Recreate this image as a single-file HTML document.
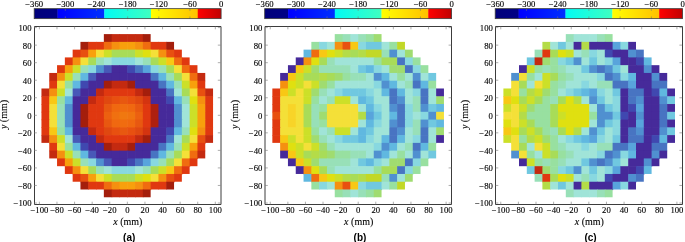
<!DOCTYPE html>
<html><head><meta charset="utf-8"><title>Figure</title>
<style>
html,body{margin:0;padding:0;background:#fff;}
body{width:685px;height:242px;overflow:hidden;}
svg{display:block;}
.t{font-family:"Liberation Serif","DejaVu Serif",serif;font-size:8.7px;fill:#000;stroke:#000;stroke-width:0.12px;}
.l{font-family:"Liberation Serif","DejaVu Serif",serif;font-size:10px;fill:#000;stroke:#000;stroke-width:0.1px;}
.p{font-family:"Liberation Sans","DejaVu Sans",sans-serif;font-size:10px;font-weight:bold;fill:#000;}
</style></head><body>
<svg width="685" height="242" viewBox="0 0 685 242">
<defs>
<linearGradient id="g1" x1="0" x2="1" y1="0" y2="0"><stop offset="0" stop-color="#00007a"/><stop offset="1" stop-color="#000086"/></linearGradient>
<linearGradient id="g2" x1="0" x2="1" y1="0" y2="0"><stop offset="0" stop-color="#0000ff"/><stop offset="1" stop-color="#0030ff"/></linearGradient>
<linearGradient id="g3" x1="0" x2="1" y1="0" y2="0"><stop offset="0" stop-color="#00fbf4"/><stop offset="1" stop-color="#40ffc0"/></linearGradient>
<linearGradient id="g4" x1="0" x2="1" y1="0" y2="0"><stop offset="0" stop-color="#ffff00"/><stop offset="1" stop-color="#ffc000"/></linearGradient>
<linearGradient id="g5" x1="0" x2="1" y1="0" y2="0"><stop offset="0" stop-color="#ff0000"/><stop offset="1" stop-color="#c00000"/></linearGradient>
</defs>
<g>
<rect x="103.85" y="34.1" width="8.4" height="8.37" fill="#a41e0c"/><rect x="111.65" y="34.1" width="8.4" height="8.37" fill="#c42a10"/><rect x="119.45" y="34.1" width="8.4" height="8.37" fill="#c42a10"/><rect x="127.25" y="34.1" width="8.4" height="8.37" fill="#c42a10"/><rect x="135.05" y="34.1" width="8.4" height="8.37" fill="#c42a10"/><rect x="142.85" y="34.1" width="7.8" height="8.37" fill="#a41e0c"/>
<rect x="80.45" y="41.87" width="8.4" height="8.37" fill="#a41e0c"/><rect x="88.25" y="41.87" width="8.4" height="8.37" fill="#e03810"/><rect x="96.05" y="41.87" width="8.4" height="8.37" fill="#e03810"/><rect x="103.85" y="41.87" width="8.4" height="8.37" fill="#f06c10"/><rect x="111.65" y="41.87" width="8.4" height="8.37" fill="#f59010"/><rect x="119.45" y="41.87" width="8.4" height="8.37" fill="#f8a00c"/><rect x="127.25" y="41.87" width="8.4" height="8.37" fill="#f8a00c"/><rect x="135.05" y="41.87" width="8.4" height="8.37" fill="#f59010"/><rect x="142.85" y="41.87" width="8.4" height="8.37" fill="#f06c10"/><rect x="150.65" y="41.87" width="8.4" height="8.37" fill="#e03810"/><rect x="158.45" y="41.87" width="8.4" height="8.37" fill="#e03810"/><rect x="166.25" y="41.87" width="7.8" height="8.37" fill="#a41e0c"/>
<rect x="72.65" y="49.64" width="8.4" height="8.37" fill="#e03810"/><rect x="80.45" y="49.64" width="8.4" height="8.37" fill="#e85010"/><rect x="88.25" y="49.64" width="8.4" height="8.37" fill="#f8a00c"/><rect x="96.05" y="49.64" width="8.4" height="8.37" fill="#f4e038"/><rect x="103.85" y="49.64" width="8.4" height="8.37" fill="#cce028"/><rect x="111.65" y="49.64" width="8.4" height="8.37" fill="#a8dc58"/><rect x="119.45" y="49.64" width="8.4" height="8.37" fill="#a8dc58"/><rect x="127.25" y="49.64" width="8.4" height="8.37" fill="#a8dc58"/><rect x="135.05" y="49.64" width="8.4" height="8.37" fill="#cce028"/><rect x="142.85" y="49.64" width="8.4" height="8.37" fill="#e0e010"/><rect x="150.65" y="49.64" width="8.4" height="8.37" fill="#f4e038"/><rect x="158.45" y="49.64" width="8.4" height="8.37" fill="#f59010"/><rect x="166.25" y="49.64" width="8.4" height="8.37" fill="#e85010"/><rect x="174.05" y="49.64" width="7.8" height="8.37" fill="#e03810"/>
<rect x="64.85" y="57.41" width="8.4" height="8.37" fill="#e03810"/><rect x="72.65" y="57.41" width="8.4" height="8.37" fill="#f59010"/><rect x="80.45" y="57.41" width="8.4" height="8.37" fill="#f4e038"/><rect x="88.25" y="57.41" width="8.4" height="8.37" fill="#a8dc58"/><rect x="96.05" y="57.41" width="8.4" height="8.37" fill="#98e0b8"/><rect x="103.85" y="57.41" width="8.4" height="8.37" fill="#a0e4d8"/><rect x="111.65" y="57.41" width="8.4" height="8.37" fill="#88d8e0"/><rect x="119.45" y="57.41" width="8.4" height="8.37" fill="#88d8e0"/><rect x="127.25" y="57.41" width="8.4" height="8.37" fill="#88d8e0"/><rect x="135.05" y="57.41" width="8.4" height="8.37" fill="#a0e4d8"/><rect x="142.85" y="57.41" width="8.4" height="8.37" fill="#98e0b8"/><rect x="150.65" y="57.41" width="8.4" height="8.37" fill="#a8dc58"/><rect x="158.45" y="57.41" width="8.4" height="8.37" fill="#cce028"/><rect x="166.25" y="57.41" width="8.4" height="8.37" fill="#f8c814"/><rect x="174.05" y="57.41" width="8.4" height="8.37" fill="#f06c10"/><rect x="181.85" y="57.41" width="7.8" height="8.37" fill="#e03810"/>
<rect x="57.05" y="65.18" width="8.4" height="8.37" fill="#e03810"/><rect x="64.85" y="65.18" width="8.4" height="8.37" fill="#f8a00c"/><rect x="72.65" y="65.18" width="8.4" height="8.37" fill="#cce028"/><rect x="80.45" y="65.18" width="8.4" height="8.37" fill="#98e0b8"/><rect x="88.25" y="65.18" width="8.4" height="8.37" fill="#88d8e0"/><rect x="96.05" y="65.18" width="8.4" height="8.37" fill="#5090d0"/><rect x="103.85" y="65.18" width="8.4" height="8.37" fill="#4858b8"/><rect x="111.65" y="65.18" width="8.4" height="8.37" fill="#462a9a"/><rect x="119.45" y="65.18" width="8.4" height="8.37" fill="#462a9a"/><rect x="127.25" y="65.18" width="8.4" height="8.37" fill="#4048b0"/><rect x="135.05" y="65.18" width="8.4" height="8.37" fill="#4874c2"/><rect x="142.85" y="65.18" width="8.4" height="8.37" fill="#58a4dc"/><rect x="150.65" y="65.18" width="8.4" height="8.37" fill="#88d8e0"/><rect x="158.45" y="65.18" width="8.4" height="8.37" fill="#98e0b8"/><rect x="166.25" y="65.18" width="8.4" height="8.37" fill="#a8dc58"/><rect x="174.05" y="65.18" width="8.4" height="8.37" fill="#f4e038"/><rect x="181.85" y="65.18" width="8.4" height="8.37" fill="#f06c10"/><rect x="189.65" y="65.18" width="7.8" height="8.37" fill="#e03810"/>
<rect x="49.25" y="72.95" width="8.4" height="8.37" fill="#c42a10"/><rect x="57.05" y="72.95" width="8.4" height="8.37" fill="#f59010"/><rect x="64.85" y="72.95" width="8.4" height="8.37" fill="#cce028"/><rect x="72.65" y="72.95" width="8.4" height="8.37" fill="#98e0b8"/><rect x="80.45" y="72.95" width="8.4" height="8.37" fill="#60b8e0"/><rect x="88.25" y="72.95" width="8.4" height="8.37" fill="#4858b8"/><rect x="96.05" y="72.95" width="8.4" height="8.37" fill="#462a9a"/><rect x="103.85" y="72.95" width="8.4" height="8.37" fill="#462a9a"/><rect x="111.65" y="72.95" width="8.4" height="8.37" fill="#462a9a"/><rect x="119.45" y="72.95" width="8.4" height="8.37" fill="#462a9a"/><rect x="127.25" y="72.95" width="8.4" height="8.37" fill="#462a9a"/><rect x="135.05" y="72.95" width="8.4" height="8.37" fill="#462a9a"/><rect x="142.85" y="72.95" width="8.4" height="8.37" fill="#462a9a"/><rect x="150.65" y="72.95" width="8.4" height="8.37" fill="#4874c2"/><rect x="158.45" y="72.95" width="8.4" height="8.37" fill="#60b8e0"/><rect x="166.25" y="72.95" width="8.4" height="8.37" fill="#98e0b8"/><rect x="174.05" y="72.95" width="8.4" height="8.37" fill="#a8dc58"/><rect x="181.85" y="72.95" width="8.4" height="8.37" fill="#f4e038"/><rect x="189.65" y="72.95" width="8.4" height="8.37" fill="#f06c10"/><rect x="197.45" y="72.95" width="7.8" height="8.37" fill="#c42a10"/>
<rect x="49.25" y="80.72" width="8.4" height="8.37" fill="#e03810"/><rect x="57.05" y="80.72" width="8.4" height="8.37" fill="#f4e038"/><rect x="64.85" y="80.72" width="8.4" height="8.37" fill="#98e0a0"/><rect x="72.65" y="80.72" width="8.4" height="8.37" fill="#60b8e0"/><rect x="80.45" y="80.72" width="8.4" height="8.37" fill="#4048b0"/><rect x="88.25" y="80.72" width="8.4" height="8.37" fill="#462a9a"/><rect x="96.05" y="80.72" width="8.4" height="8.37" fill="#462a9a"/><rect x="103.85" y="80.72" width="8.4" height="8.37" fill="#a41e0c"/><rect x="111.65" y="80.72" width="8.4" height="8.37" fill="#c42a10"/><rect x="119.45" y="80.72" width="8.4" height="8.37" fill="#c42a10"/><rect x="127.25" y="80.72" width="8.4" height="8.37" fill="#a41e0c"/><rect x="135.05" y="80.72" width="8.4" height="8.37" fill="#462a9a"/><rect x="142.85" y="80.72" width="8.4" height="8.37" fill="#462a9a"/><rect x="150.65" y="80.72" width="8.4" height="8.37" fill="#462a9a"/><rect x="158.45" y="80.72" width="8.4" height="8.37" fill="#4874c2"/><rect x="166.25" y="80.72" width="8.4" height="8.37" fill="#60b8e0"/><rect x="174.05" y="80.72" width="8.4" height="8.37" fill="#98e0b8"/><rect x="181.85" y="80.72" width="8.4" height="8.37" fill="#cce028"/><rect x="189.65" y="80.72" width="8.4" height="8.37" fill="#f8a00c"/><rect x="197.45" y="80.72" width="7.8" height="8.37" fill="#e03810"/>
<rect x="41.45" y="88.49" width="8.4" height="8.37" fill="#c42a10"/><rect x="49.25" y="88.49" width="8.4" height="8.37" fill="#f59010"/><rect x="57.05" y="88.49" width="8.4" height="8.37" fill="#cce028"/><rect x="64.85" y="88.49" width="8.4" height="8.37" fill="#a0e4d8"/><rect x="72.65" y="88.49" width="8.4" height="8.37" fill="#4858b8"/><rect x="80.45" y="88.49" width="8.4" height="8.37" fill="#462a9a"/><rect x="88.25" y="88.49" width="8.4" height="8.37" fill="#462a9a"/><rect x="96.05" y="88.49" width="8.4" height="8.37" fill="#c42a10"/><rect x="103.85" y="88.49" width="8.4" height="8.37" fill="#e03810"/><rect x="111.65" y="88.49" width="8.4" height="8.37" fill="#e03810"/><rect x="119.45" y="88.49" width="8.4" height="8.37" fill="#e03810"/><rect x="127.25" y="88.49" width="8.4" height="8.37" fill="#e03810"/><rect x="135.05" y="88.49" width="8.4" height="8.37" fill="#c42a10"/><rect x="142.85" y="88.49" width="8.4" height="8.37" fill="#a41e0c"/><rect x="150.65" y="88.49" width="8.4" height="8.37" fill="#462a9a"/><rect x="158.45" y="88.49" width="8.4" height="8.37" fill="#462a9a"/><rect x="166.25" y="88.49" width="8.4" height="8.37" fill="#4874c2"/><rect x="174.05" y="88.49" width="8.4" height="8.37" fill="#a0e4d8"/><rect x="181.85" y="88.49" width="8.4" height="8.37" fill="#a8dc58"/><rect x="189.65" y="88.49" width="8.4" height="8.37" fill="#f4e038"/><rect x="197.45" y="88.49" width="8.4" height="8.37" fill="#e85010"/><rect x="205.25" y="88.49" width="7.8" height="8.37" fill="#c42a10"/>
<rect x="41.45" y="96.26" width="8.4" height="8.37" fill="#e03810"/><rect x="49.25" y="96.26" width="8.4" height="8.37" fill="#f8c814"/><rect x="57.05" y="96.26" width="8.4" height="8.37" fill="#98e0a0"/><rect x="64.85" y="96.26" width="8.4" height="8.37" fill="#60b8e0"/><rect x="72.65" y="96.26" width="8.4" height="8.37" fill="#462a9a"/><rect x="80.45" y="96.26" width="8.4" height="8.37" fill="#462a9a"/><rect x="88.25" y="96.26" width="8.4" height="8.37" fill="#c42a10"/><rect x="96.05" y="96.26" width="8.4" height="8.37" fill="#e03810"/><rect x="103.85" y="96.26" width="8.4" height="8.37" fill="#e04810"/><rect x="111.65" y="96.26" width="8.4" height="8.37" fill="#e85010"/><rect x="119.45" y="96.26" width="8.4" height="8.37" fill="#e85810"/><rect x="127.25" y="96.26" width="8.4" height="8.37" fill="#e85010"/><rect x="135.05" y="96.26" width="8.4" height="8.37" fill="#e04810"/><rect x="142.85" y="96.26" width="8.4" height="8.37" fill="#d43410"/><rect x="150.65" y="96.26" width="8.4" height="8.37" fill="#462a9a"/><rect x="158.45" y="96.26" width="8.4" height="8.37" fill="#462a9a"/><rect x="166.25" y="96.26" width="8.4" height="8.37" fill="#4048b0"/><rect x="174.05" y="96.26" width="8.4" height="8.37" fill="#60b8e0"/><rect x="181.85" y="96.26" width="8.4" height="8.37" fill="#98e0b8"/><rect x="189.65" y="96.26" width="8.4" height="8.37" fill="#e0e010"/><rect x="197.45" y="96.26" width="8.4" height="8.37" fill="#f59010"/><rect x="205.25" y="96.26" width="7.8" height="8.37" fill="#e03810"/>
<rect x="41.45" y="104.03" width="8.4" height="8.37" fill="#e03810"/><rect x="49.25" y="104.03" width="8.4" height="8.37" fill="#f4e038"/><rect x="57.05" y="104.03" width="8.4" height="8.37" fill="#98e0b8"/><rect x="64.85" y="104.03" width="8.4" height="8.37" fill="#5090d0"/><rect x="72.65" y="104.03" width="8.4" height="8.37" fill="#462a9a"/><rect x="80.45" y="104.03" width="8.4" height="8.37" fill="#a41e0c"/><rect x="88.25" y="104.03" width="8.4" height="8.37" fill="#e03810"/><rect x="96.05" y="104.03" width="8.4" height="8.37" fill="#e03810"/><rect x="103.85" y="104.03" width="8.4" height="8.37" fill="#e85810"/><rect x="111.65" y="104.03" width="8.4" height="8.37" fill="#f06810"/><rect x="119.45" y="104.03" width="8.4" height="8.37" fill="#f06c10"/><rect x="127.25" y="104.03" width="8.4" height="8.37" fill="#f06810"/><rect x="135.05" y="104.03" width="8.4" height="8.37" fill="#e85810"/><rect x="142.85" y="104.03" width="8.4" height="8.37" fill="#e03810"/><rect x="150.65" y="104.03" width="8.4" height="8.37" fill="#ae2010"/><rect x="158.45" y="104.03" width="8.4" height="8.37" fill="#462a9a"/><rect x="166.25" y="104.03" width="8.4" height="8.37" fill="#462a9a"/><rect x="174.05" y="104.03" width="8.4" height="8.37" fill="#5090d0"/><rect x="181.85" y="104.03" width="8.4" height="8.37" fill="#a0e4d8"/><rect x="189.65" y="104.03" width="8.4" height="8.37" fill="#cce028"/><rect x="197.45" y="104.03" width="8.4" height="8.37" fill="#f8a00c"/><rect x="205.25" y="104.03" width="7.8" height="8.37" fill="#e03810"/>
<rect x="41.45" y="111.8" width="8.4" height="8.37" fill="#e03810"/><rect x="49.25" y="111.8" width="8.4" height="8.37" fill="#f4e038"/><rect x="57.05" y="111.8" width="8.4" height="8.37" fill="#98e0b8"/><rect x="64.85" y="111.8" width="8.4" height="8.37" fill="#5090d0"/><rect x="72.65" y="111.8" width="8.4" height="8.37" fill="#462a9a"/><rect x="80.45" y="111.8" width="8.4" height="8.37" fill="#a41e0c"/><rect x="88.25" y="111.8" width="8.4" height="8.37" fill="#e03810"/><rect x="96.05" y="111.8" width="8.4" height="8.37" fill="#e03810"/><rect x="103.85" y="111.8" width="8.4" height="8.37" fill="#ec6010"/><rect x="111.65" y="111.8" width="8.4" height="8.37" fill="#f07010"/><rect x="119.45" y="111.8" width="8.4" height="8.37" fill="#f07810"/><rect x="127.25" y="111.8" width="8.4" height="8.37" fill="#f07410"/><rect x="135.05" y="111.8" width="8.4" height="8.37" fill="#ec6010"/><rect x="142.85" y="111.8" width="8.4" height="8.37" fill="#e03810"/><rect x="150.65" y="111.8" width="8.4" height="8.37" fill="#ae2010"/><rect x="158.45" y="111.8" width="8.4" height="8.37" fill="#462a9a"/><rect x="166.25" y="111.8" width="8.4" height="8.37" fill="#462a9a"/><rect x="174.05" y="111.8" width="8.4" height="8.37" fill="#5090d0"/><rect x="181.85" y="111.8" width="8.4" height="8.37" fill="#a0e4d8"/><rect x="189.65" y="111.8" width="8.4" height="8.37" fill="#cce028"/><rect x="197.45" y="111.8" width="8.4" height="8.37" fill="#f8a00c"/><rect x="205.25" y="111.8" width="7.8" height="8.37" fill="#e03810"/>
<rect x="41.45" y="119.57" width="8.4" height="8.37" fill="#e03810"/><rect x="49.25" y="119.57" width="8.4" height="8.37" fill="#f4e038"/><rect x="57.05" y="119.57" width="8.4" height="8.37" fill="#98e0b8"/><rect x="64.85" y="119.57" width="8.4" height="8.37" fill="#5090d0"/><rect x="72.65" y="119.57" width="8.4" height="8.37" fill="#462a9a"/><rect x="80.45" y="119.57" width="8.4" height="8.37" fill="#a41e0c"/><rect x="88.25" y="119.57" width="8.4" height="8.37" fill="#e03810"/><rect x="96.05" y="119.57" width="8.4" height="8.37" fill="#e03810"/><rect x="103.85" y="119.57" width="8.4" height="8.37" fill="#e85810"/><rect x="111.65" y="119.57" width="8.4" height="8.37" fill="#f06810"/><rect x="119.45" y="119.57" width="8.4" height="8.37" fill="#f06c10"/><rect x="127.25" y="119.57" width="8.4" height="8.37" fill="#f06810"/><rect x="135.05" y="119.57" width="8.4" height="8.37" fill="#e85810"/><rect x="142.85" y="119.57" width="8.4" height="8.37" fill="#e03810"/><rect x="150.65" y="119.57" width="8.4" height="8.37" fill="#ae2010"/><rect x="158.45" y="119.57" width="8.4" height="8.37" fill="#462a9a"/><rect x="166.25" y="119.57" width="8.4" height="8.37" fill="#462a9a"/><rect x="174.05" y="119.57" width="8.4" height="8.37" fill="#5090d0"/><rect x="181.85" y="119.57" width="8.4" height="8.37" fill="#a0e4d8"/><rect x="189.65" y="119.57" width="8.4" height="8.37" fill="#cce028"/><rect x="197.45" y="119.57" width="8.4" height="8.37" fill="#f8a00c"/><rect x="205.25" y="119.57" width="7.8" height="8.37" fill="#e03810"/>
<rect x="41.45" y="127.34" width="8.4" height="8.37" fill="#e03810"/><rect x="49.25" y="127.34" width="8.4" height="8.37" fill="#f8c814"/><rect x="57.05" y="127.34" width="8.4" height="8.37" fill="#98e0a0"/><rect x="64.85" y="127.34" width="8.4" height="8.37" fill="#60b8e0"/><rect x="72.65" y="127.34" width="8.4" height="8.37" fill="#462a9a"/><rect x="80.45" y="127.34" width="8.4" height="8.37" fill="#462a9a"/><rect x="88.25" y="127.34" width="8.4" height="8.37" fill="#c42a10"/><rect x="96.05" y="127.34" width="8.4" height="8.37" fill="#e03810"/><rect x="103.85" y="127.34" width="8.4" height="8.37" fill="#e04810"/><rect x="111.65" y="127.34" width="8.4" height="8.37" fill="#e85010"/><rect x="119.45" y="127.34" width="8.4" height="8.37" fill="#e85810"/><rect x="127.25" y="127.34" width="8.4" height="8.37" fill="#e85010"/><rect x="135.05" y="127.34" width="8.4" height="8.37" fill="#e04810"/><rect x="142.85" y="127.34" width="8.4" height="8.37" fill="#d43410"/><rect x="150.65" y="127.34" width="8.4" height="8.37" fill="#462a9a"/><rect x="158.45" y="127.34" width="8.4" height="8.37" fill="#462a9a"/><rect x="166.25" y="127.34" width="8.4" height="8.37" fill="#4048b0"/><rect x="174.05" y="127.34" width="8.4" height="8.37" fill="#60b8e0"/><rect x="181.85" y="127.34" width="8.4" height="8.37" fill="#98e0b8"/><rect x="189.65" y="127.34" width="8.4" height="8.37" fill="#e0e010"/><rect x="197.45" y="127.34" width="8.4" height="8.37" fill="#f59010"/><rect x="205.25" y="127.34" width="7.8" height="8.37" fill="#e03810"/>
<rect x="41.45" y="135.11" width="8.4" height="7.77" fill="#c42a10"/><rect x="49.25" y="135.11" width="8.4" height="8.37" fill="#f59010"/><rect x="57.05" y="135.11" width="8.4" height="8.37" fill="#cce028"/><rect x="64.85" y="135.11" width="8.4" height="8.37" fill="#a0e4d8"/><rect x="72.65" y="135.11" width="8.4" height="8.37" fill="#4858b8"/><rect x="80.45" y="135.11" width="8.4" height="8.37" fill="#462a9a"/><rect x="88.25" y="135.11" width="8.4" height="8.37" fill="#462a9a"/><rect x="96.05" y="135.11" width="8.4" height="8.37" fill="#c42a10"/><rect x="103.85" y="135.11" width="8.4" height="8.37" fill="#e03810"/><rect x="111.65" y="135.11" width="8.4" height="8.37" fill="#e03810"/><rect x="119.45" y="135.11" width="8.4" height="8.37" fill="#e03810"/><rect x="127.25" y="135.11" width="8.4" height="8.37" fill="#e03810"/><rect x="135.05" y="135.11" width="8.4" height="8.37" fill="#c42a10"/><rect x="142.85" y="135.11" width="8.4" height="8.37" fill="#a41e0c"/><rect x="150.65" y="135.11" width="8.4" height="8.37" fill="#462a9a"/><rect x="158.45" y="135.11" width="8.4" height="8.37" fill="#462a9a"/><rect x="166.25" y="135.11" width="8.4" height="8.37" fill="#4874c2"/><rect x="174.05" y="135.11" width="8.4" height="8.37" fill="#a0e4d8"/><rect x="181.85" y="135.11" width="8.4" height="8.37" fill="#a8dc58"/><rect x="189.65" y="135.11" width="8.4" height="8.37" fill="#f4e038"/><rect x="197.45" y="135.11" width="8.4" height="8.37" fill="#e85010"/><rect x="205.25" y="135.11" width="7.8" height="7.77" fill="#c42a10"/>
<rect x="49.25" y="142.88" width="8.4" height="8.37" fill="#e03810"/><rect x="57.05" y="142.88" width="8.4" height="8.37" fill="#f4e038"/><rect x="64.85" y="142.88" width="8.4" height="8.37" fill="#98e0a0"/><rect x="72.65" y="142.88" width="8.4" height="8.37" fill="#60b8e0"/><rect x="80.45" y="142.88" width="8.4" height="8.37" fill="#4048b0"/><rect x="88.25" y="142.88" width="8.4" height="8.37" fill="#462a9a"/><rect x="96.05" y="142.88" width="8.4" height="8.37" fill="#462a9a"/><rect x="103.85" y="142.88" width="8.4" height="8.37" fill="#a41e0c"/><rect x="111.65" y="142.88" width="8.4" height="8.37" fill="#c42a10"/><rect x="119.45" y="142.88" width="8.4" height="8.37" fill="#c42a10"/><rect x="127.25" y="142.88" width="8.4" height="8.37" fill="#a41e0c"/><rect x="135.05" y="142.88" width="8.4" height="8.37" fill="#462a9a"/><rect x="142.85" y="142.88" width="8.4" height="8.37" fill="#462a9a"/><rect x="150.65" y="142.88" width="8.4" height="8.37" fill="#462a9a"/><rect x="158.45" y="142.88" width="8.4" height="8.37" fill="#4874c2"/><rect x="166.25" y="142.88" width="8.4" height="8.37" fill="#60b8e0"/><rect x="174.05" y="142.88" width="8.4" height="8.37" fill="#98e0b8"/><rect x="181.85" y="142.88" width="8.4" height="8.37" fill="#cce028"/><rect x="189.65" y="142.88" width="8.4" height="8.37" fill="#f8a00c"/><rect x="197.45" y="142.88" width="7.8" height="8.37" fill="#e03810"/>
<rect x="49.25" y="150.65" width="8.4" height="7.77" fill="#c42a10"/><rect x="57.05" y="150.65" width="8.4" height="8.37" fill="#f59010"/><rect x="64.85" y="150.65" width="8.4" height="8.37" fill="#cce028"/><rect x="72.65" y="150.65" width="8.4" height="8.37" fill="#98e0b8"/><rect x="80.45" y="150.65" width="8.4" height="8.37" fill="#60b8e0"/><rect x="88.25" y="150.65" width="8.4" height="8.37" fill="#4858b8"/><rect x="96.05" y="150.65" width="8.4" height="8.37" fill="#462a9a"/><rect x="103.85" y="150.65" width="8.4" height="8.37" fill="#462a9a"/><rect x="111.65" y="150.65" width="8.4" height="8.37" fill="#462a9a"/><rect x="119.45" y="150.65" width="8.4" height="8.37" fill="#462a9a"/><rect x="127.25" y="150.65" width="8.4" height="8.37" fill="#462a9a"/><rect x="135.05" y="150.65" width="8.4" height="8.37" fill="#462a9a"/><rect x="142.85" y="150.65" width="8.4" height="8.37" fill="#462a9a"/><rect x="150.65" y="150.65" width="8.4" height="8.37" fill="#4874c2"/><rect x="158.45" y="150.65" width="8.4" height="8.37" fill="#60b8e0"/><rect x="166.25" y="150.65" width="8.4" height="8.37" fill="#98e0b8"/><rect x="174.05" y="150.65" width="8.4" height="8.37" fill="#a8dc58"/><rect x="181.85" y="150.65" width="8.4" height="8.37" fill="#f4e038"/><rect x="189.65" y="150.65" width="8.4" height="8.37" fill="#f06c10"/><rect x="197.45" y="150.65" width="7.8" height="7.77" fill="#c42a10"/>
<rect x="57.05" y="158.42" width="8.4" height="7.77" fill="#e03810"/><rect x="64.85" y="158.42" width="8.4" height="8.37" fill="#f8a00c"/><rect x="72.65" y="158.42" width="8.4" height="8.37" fill="#cce028"/><rect x="80.45" y="158.42" width="8.4" height="8.37" fill="#98e0b8"/><rect x="88.25" y="158.42" width="8.4" height="8.37" fill="#88d8e0"/><rect x="96.05" y="158.42" width="8.4" height="8.37" fill="#5090d0"/><rect x="103.85" y="158.42" width="8.4" height="8.37" fill="#4858b8"/><rect x="111.65" y="158.42" width="8.4" height="8.37" fill="#462a9a"/><rect x="119.45" y="158.42" width="8.4" height="8.37" fill="#462a9a"/><rect x="127.25" y="158.42" width="8.4" height="8.37" fill="#4048b0"/><rect x="135.05" y="158.42" width="8.4" height="8.37" fill="#4874c2"/><rect x="142.85" y="158.42" width="8.4" height="8.37" fill="#58a4dc"/><rect x="150.65" y="158.42" width="8.4" height="8.37" fill="#88d8e0"/><rect x="158.45" y="158.42" width="8.4" height="8.37" fill="#98e0b8"/><rect x="166.25" y="158.42" width="8.4" height="8.37" fill="#a8dc58"/><rect x="174.05" y="158.42" width="8.4" height="8.37" fill="#f4e038"/><rect x="181.85" y="158.42" width="8.4" height="8.37" fill="#f06c10"/><rect x="189.65" y="158.42" width="7.8" height="7.77" fill="#e03810"/>
<rect x="64.85" y="166.19" width="8.4" height="7.77" fill="#e03810"/><rect x="72.65" y="166.19" width="8.4" height="8.37" fill="#f59010"/><rect x="80.45" y="166.19" width="8.4" height="8.37" fill="#f4e038"/><rect x="88.25" y="166.19" width="8.4" height="8.37" fill="#a8dc58"/><rect x="96.05" y="166.19" width="8.4" height="8.37" fill="#98e0b8"/><rect x="103.85" y="166.19" width="8.4" height="8.37" fill="#a0e4d8"/><rect x="111.65" y="166.19" width="8.4" height="8.37" fill="#88d8e0"/><rect x="119.45" y="166.19" width="8.4" height="8.37" fill="#88d8e0"/><rect x="127.25" y="166.19" width="8.4" height="8.37" fill="#88d8e0"/><rect x="135.05" y="166.19" width="8.4" height="8.37" fill="#a0e4d8"/><rect x="142.85" y="166.19" width="8.4" height="8.37" fill="#98e0b8"/><rect x="150.65" y="166.19" width="8.4" height="8.37" fill="#a8dc58"/><rect x="158.45" y="166.19" width="8.4" height="8.37" fill="#cce028"/><rect x="166.25" y="166.19" width="8.4" height="8.37" fill="#f8c814"/><rect x="174.05" y="166.19" width="8.4" height="8.37" fill="#f06c10"/><rect x="181.85" y="166.19" width="7.8" height="7.77" fill="#e03810"/>
<rect x="72.65" y="173.96" width="8.4" height="7.77" fill="#e03810"/><rect x="80.45" y="173.96" width="8.4" height="8.37" fill="#e85010"/><rect x="88.25" y="173.96" width="8.4" height="8.37" fill="#f8a00c"/><rect x="96.05" y="173.96" width="8.4" height="8.37" fill="#f4e038"/><rect x="103.85" y="173.96" width="8.4" height="8.37" fill="#cce028"/><rect x="111.65" y="173.96" width="8.4" height="8.37" fill="#a8dc58"/><rect x="119.45" y="173.96" width="8.4" height="8.37" fill="#a8dc58"/><rect x="127.25" y="173.96" width="8.4" height="8.37" fill="#a8dc58"/><rect x="135.05" y="173.96" width="8.4" height="8.37" fill="#cce028"/><rect x="142.85" y="173.96" width="8.4" height="8.37" fill="#e0e010"/><rect x="150.65" y="173.96" width="8.4" height="8.37" fill="#f4e038"/><rect x="158.45" y="173.96" width="8.4" height="8.37" fill="#f59010"/><rect x="166.25" y="173.96" width="8.4" height="8.37" fill="#e85010"/><rect x="174.05" y="173.96" width="7.8" height="7.77" fill="#e03810"/>
<rect x="80.45" y="181.73" width="8.4" height="7.77" fill="#a41e0c"/><rect x="88.25" y="181.73" width="8.4" height="7.77" fill="#e03810"/><rect x="96.05" y="181.73" width="8.4" height="7.77" fill="#e03810"/><rect x="103.85" y="181.73" width="8.4" height="8.37" fill="#f06c10"/><rect x="111.65" y="181.73" width="8.4" height="8.37" fill="#f59010"/><rect x="119.45" y="181.73" width="8.4" height="8.37" fill="#f8a00c"/><rect x="127.25" y="181.73" width="8.4" height="8.37" fill="#f8a00c"/><rect x="135.05" y="181.73" width="8.4" height="8.37" fill="#f59010"/><rect x="142.85" y="181.73" width="8.4" height="8.37" fill="#f06c10"/><rect x="150.65" y="181.73" width="8.4" height="7.77" fill="#e03810"/><rect x="158.45" y="181.73" width="8.4" height="7.77" fill="#e03810"/><rect x="166.25" y="181.73" width="7.8" height="7.77" fill="#a41e0c"/>
<rect x="103.85" y="189.5" width="8.4" height="7.77" fill="#a41e0c"/><rect x="111.65" y="189.5" width="8.4" height="7.77" fill="#c42a10"/><rect x="119.45" y="189.5" width="8.4" height="7.77" fill="#c42a10"/><rect x="127.25" y="189.5" width="8.4" height="7.77" fill="#c42a10"/><rect x="135.05" y="189.5" width="8.4" height="7.77" fill="#c42a10"/><rect x="142.85" y="189.5" width="7.8" height="7.77" fill="#a41e0c"/>
</g>
<rect x="34.2" y="8.65" width="23.66" height="10" fill="url(#g1)"/>
<rect x="57.56" y="8.65" width="47.02" height="10" fill="url(#g2)"/>
<rect x="104.29" y="8.65" width="47.02" height="10" fill="url(#g3)"/>
<rect x="151.01" y="8.65" width="47.02" height="10" fill="url(#g4)"/>
<rect x="197.74" y="8.65" width="23.36" height="10" fill="url(#g5)"/>
<line x1="65.35" y1="8.65" x2="65.35" y2="10.85" stroke="#777777" stroke-width="0.6"/><line x1="65.35" y1="18.65" x2="65.35" y2="16.45" stroke="#777777" stroke-width="0.6"/>
<line x1="96.5" y1="8.65" x2="96.5" y2="10.85" stroke="#777777" stroke-width="0.6"/><line x1="96.5" y1="18.65" x2="96.5" y2="16.45" stroke="#777777" stroke-width="0.6"/>
<line x1="127.65" y1="8.65" x2="127.65" y2="10.85" stroke="#777777" stroke-width="0.6"/><line x1="127.65" y1="18.65" x2="127.65" y2="16.45" stroke="#777777" stroke-width="0.6"/>
<line x1="158.8" y1="8.65" x2="158.8" y2="10.85" stroke="#777777" stroke-width="0.6"/><line x1="158.8" y1="18.65" x2="158.8" y2="16.45" stroke="#777777" stroke-width="0.6"/>
<line x1="189.95" y1="8.65" x2="189.95" y2="10.85" stroke="#777777" stroke-width="0.6"/><line x1="189.95" y1="18.65" x2="189.95" y2="16.45" stroke="#777777" stroke-width="0.6"/>
<rect x="34.2" y="8.65" width="186.9" height="10" fill="none" stroke="#3c3c3c" stroke-width="0.8"/>
<text class="t" x="34.2" y="6.7" text-anchor="middle">−360</text>
<text class="t" x="65.35" y="6.7" text-anchor="middle">−300</text>
<text class="t" x="96.5" y="6.7" text-anchor="middle">−240</text>
<text class="t" x="127.65" y="6.7" text-anchor="middle">−180</text>
<text class="t" x="158.8" y="6.7" text-anchor="middle">−120</text>
<text class="t" x="189.95" y="6.7" text-anchor="middle">−60</text>
<text class="t" x="221.1" y="6.7" text-anchor="middle">0</text>
<path d="M34.5 26.5H221V204.5H34.5Z" fill="none" stroke="#3c3c3c" stroke-width="1"/>
<line x1="39.38" y1="26.5" x2="39.38" y2="29.3" stroke="#777777" stroke-width="0.6"/><line x1="39.38" y1="204.5" x2="39.38" y2="201.7" stroke="#777777" stroke-width="0.6"/><line x1="34.1" y1="203" x2="36.9" y2="203" stroke="#777777" stroke-width="0.6"/><line x1="220.6" y1="203" x2="217.8" y2="203" stroke="#777777" stroke-width="0.6"/>
<text class="t" x="39.38" y="213.1" text-anchor="middle">−100</text>
<text class="t" x="31.5" y="206.45" text-anchor="end">−100</text>
<line x1="56.97" y1="26.5" x2="56.97" y2="29.3" stroke="#777777" stroke-width="0.6"/><line x1="56.97" y1="204.5" x2="56.97" y2="201.7" stroke="#777777" stroke-width="0.6"/><line x1="34.1" y1="185.46" x2="36.9" y2="185.46" stroke="#777777" stroke-width="0.6"/><line x1="220.6" y1="185.46" x2="217.8" y2="185.46" stroke="#777777" stroke-width="0.6"/>
<text class="t" x="56.97" y="213.1" text-anchor="middle">−80</text>
<text class="t" x="31.5" y="188.91" text-anchor="end">−80</text>
<line x1="74.57" y1="26.5" x2="74.57" y2="29.3" stroke="#777777" stroke-width="0.6"/><line x1="74.57" y1="204.5" x2="74.57" y2="201.7" stroke="#777777" stroke-width="0.6"/><line x1="34.1" y1="167.92" x2="36.9" y2="167.92" stroke="#777777" stroke-width="0.6"/><line x1="220.6" y1="167.92" x2="217.8" y2="167.92" stroke="#777777" stroke-width="0.6"/>
<text class="t" x="74.57" y="213.1" text-anchor="middle">−60</text>
<text class="t" x="31.5" y="171.37" text-anchor="end">−60</text>
<line x1="92.16" y1="26.5" x2="92.16" y2="29.3" stroke="#777777" stroke-width="0.6"/><line x1="92.16" y1="204.5" x2="92.16" y2="201.7" stroke="#777777" stroke-width="0.6"/><line x1="34.1" y1="150.38" x2="36.9" y2="150.38" stroke="#777777" stroke-width="0.6"/><line x1="220.6" y1="150.38" x2="217.8" y2="150.38" stroke="#777777" stroke-width="0.6"/>
<text class="t" x="92.16" y="213.1" text-anchor="middle">−40</text>
<text class="t" x="31.5" y="153.83" text-anchor="end">−40</text>
<line x1="109.76" y1="26.5" x2="109.76" y2="29.3" stroke="#777777" stroke-width="0.6"/><line x1="109.76" y1="204.5" x2="109.76" y2="201.7" stroke="#777777" stroke-width="0.6"/><line x1="34.1" y1="132.84" x2="36.9" y2="132.84" stroke="#777777" stroke-width="0.6"/><line x1="220.6" y1="132.84" x2="217.8" y2="132.84" stroke="#777777" stroke-width="0.6"/>
<text class="t" x="109.76" y="213.1" text-anchor="middle">−20</text>
<text class="t" x="31.5" y="136.29" text-anchor="end">−20</text>
<line x1="127.35" y1="26.5" x2="127.35" y2="29.3" stroke="#777777" stroke-width="0.6"/><line x1="127.35" y1="204.5" x2="127.35" y2="201.7" stroke="#777777" stroke-width="0.6"/><line x1="34.1" y1="115.3" x2="36.9" y2="115.3" stroke="#777777" stroke-width="0.6"/><line x1="220.6" y1="115.3" x2="217.8" y2="115.3" stroke="#777777" stroke-width="0.6"/>
<text class="t" x="127.35" y="213.1" text-anchor="middle">0</text>
<text class="t" x="31.5" y="118.75" text-anchor="end">0</text>
<line x1="144.94" y1="26.5" x2="144.94" y2="29.3" stroke="#777777" stroke-width="0.6"/><line x1="144.94" y1="204.5" x2="144.94" y2="201.7" stroke="#777777" stroke-width="0.6"/><line x1="34.1" y1="97.76" x2="36.9" y2="97.76" stroke="#777777" stroke-width="0.6"/><line x1="220.6" y1="97.76" x2="217.8" y2="97.76" stroke="#777777" stroke-width="0.6"/>
<text class="t" x="144.94" y="213.1" text-anchor="middle">20</text>
<text class="t" x="31.5" y="101.21" text-anchor="end">20</text>
<line x1="162.54" y1="26.5" x2="162.54" y2="29.3" stroke="#777777" stroke-width="0.6"/><line x1="162.54" y1="204.5" x2="162.54" y2="201.7" stroke="#777777" stroke-width="0.6"/><line x1="34.1" y1="80.22" x2="36.9" y2="80.22" stroke="#777777" stroke-width="0.6"/><line x1="220.6" y1="80.22" x2="217.8" y2="80.22" stroke="#777777" stroke-width="0.6"/>
<text class="t" x="162.54" y="213.1" text-anchor="middle">40</text>
<text class="t" x="31.5" y="83.67" text-anchor="end">40</text>
<line x1="180.13" y1="26.5" x2="180.13" y2="29.3" stroke="#777777" stroke-width="0.6"/><line x1="180.13" y1="204.5" x2="180.13" y2="201.7" stroke="#777777" stroke-width="0.6"/><line x1="34.1" y1="62.68" x2="36.9" y2="62.68" stroke="#777777" stroke-width="0.6"/><line x1="220.6" y1="62.68" x2="217.8" y2="62.68" stroke="#777777" stroke-width="0.6"/>
<text class="t" x="180.13" y="213.1" text-anchor="middle">60</text>
<text class="t" x="31.5" y="66.13" text-anchor="end">60</text>
<line x1="197.73" y1="26.5" x2="197.73" y2="29.3" stroke="#777777" stroke-width="0.6"/><line x1="197.73" y1="204.5" x2="197.73" y2="201.7" stroke="#777777" stroke-width="0.6"/><line x1="34.1" y1="45.14" x2="36.9" y2="45.14" stroke="#777777" stroke-width="0.6"/><line x1="220.6" y1="45.14" x2="217.8" y2="45.14" stroke="#777777" stroke-width="0.6"/>
<text class="t" x="197.73" y="213.1" text-anchor="middle">80</text>
<text class="t" x="31.5" y="48.59" text-anchor="end">80</text>
<line x1="215.32" y1="26.5" x2="215.32" y2="29.3" stroke="#777777" stroke-width="0.6"/><line x1="215.32" y1="204.5" x2="215.32" y2="201.7" stroke="#777777" stroke-width="0.6"/><line x1="34.1" y1="27.6" x2="36.9" y2="27.6" stroke="#777777" stroke-width="0.6"/><line x1="220.6" y1="27.6" x2="217.8" y2="27.6" stroke="#777777" stroke-width="0.6"/>
<text class="t" x="215.32" y="213.1" text-anchor="middle">100</text>
<text class="t" x="31.5" y="31.05" text-anchor="end">100</text>
<text class="l" x="127.85" y="224.6" text-anchor="middle"><tspan font-style="italic">x</tspan> (mm)</text>
<text class="l" transform="translate(6.9,114.5) rotate(-90)" text-anchor="middle"><tspan font-style="italic">y</tspan> (mm)</text>
<text class="p" x="129.2" y="240.9" text-anchor="middle">(a)</text>
<g>
<rect x="334.75" y="34.1" width="8.4" height="8.37" fill="#98e0a0"/><rect x="342.55" y="34.1" width="8.4" height="8.37" fill="#98e0b8"/><rect x="350.35" y="34.1" width="8.4" height="8.37" fill="#a0e4d8"/><rect x="358.15" y="34.1" width="8.4" height="8.37" fill="#98e0b8"/><rect x="365.95" y="34.1" width="8.4" height="8.37" fill="#98e0a0"/><rect x="373.75" y="34.1" width="7.8" height="8.37" fill="#a0dc70"/>
<rect x="311.35" y="41.87" width="8.4" height="8.37" fill="#98e0a0"/><rect x="319.15" y="41.87" width="8.4" height="8.37" fill="#88d8e0"/><rect x="326.95" y="41.87" width="8.4" height="8.37" fill="#a0e4d8"/><rect x="334.75" y="41.87" width="8.4" height="8.37" fill="#f59010"/><rect x="342.55" y="41.87" width="8.4" height="8.37" fill="#e85010"/><rect x="350.35" y="41.87" width="8.4" height="8.37" fill="#f8c814"/><rect x="358.15" y="41.87" width="8.4" height="8.37" fill="#88d8e0"/><rect x="365.95" y="41.87" width="8.4" height="8.37" fill="#70c8e0"/><rect x="373.75" y="41.87" width="8.4" height="8.37" fill="#70c8e0"/><rect x="381.55" y="41.87" width="8.4" height="8.37" fill="#a0e4d8"/><rect x="389.35" y="41.87" width="8.4" height="8.37" fill="#98e0a0"/><rect x="397.15" y="41.87" width="7.8" height="8.37" fill="#c2d826"/>
<rect x="303.55" y="49.64" width="8.4" height="8.37" fill="#60b8e0"/><rect x="311.35" y="49.64" width="8.4" height="8.37" fill="#f06c10"/><rect x="319.15" y="49.64" width="8.4" height="8.37" fill="#f8c814"/><rect x="326.95" y="49.64" width="8.4" height="8.37" fill="#e0e010"/><rect x="334.75" y="49.64" width="8.4" height="8.37" fill="#cce028"/><rect x="342.55" y="49.64" width="8.4" height="8.37" fill="#b4dc48"/><rect x="350.35" y="49.64" width="8.4" height="8.37" fill="#a8dc58"/><rect x="358.15" y="49.64" width="8.4" height="8.37" fill="#b4dc48"/><rect x="365.95" y="49.64" width="8.4" height="8.37" fill="#c2d826"/><rect x="373.75" y="49.64" width="8.4" height="8.37" fill="#c2d826"/><rect x="381.55" y="49.64" width="8.4" height="8.37" fill="#98e0b8"/><rect x="389.35" y="49.64" width="8.4" height="8.37" fill="#5090d0"/><rect x="397.15" y="49.64" width="8.4" height="8.37" fill="#a0e4d8"/><rect x="404.95" y="49.64" width="7.8" height="8.37" fill="#a0dc70"/>
<rect x="295.75" y="57.41" width="8.4" height="8.37" fill="#462a9a"/><rect x="303.55" y="57.41" width="8.4" height="8.37" fill="#f59010"/><rect x="311.35" y="57.41" width="8.4" height="8.37" fill="#e0e010"/><rect x="319.15" y="57.41" width="8.4" height="8.37" fill="#a8dc58"/><rect x="326.95" y="57.41" width="8.4" height="8.37" fill="#98e0b8"/><rect x="334.75" y="57.41" width="8.4" height="8.37" fill="#a0e4d8"/><rect x="342.55" y="57.41" width="8.4" height="8.37" fill="#a0e4d8"/><rect x="350.35" y="57.41" width="8.4" height="8.37" fill="#a0e4d8"/><rect x="358.15" y="57.41" width="8.4" height="8.37" fill="#a0e4d8"/><rect x="365.95" y="57.41" width="8.4" height="8.37" fill="#a0e4d8"/><rect x="373.75" y="57.41" width="8.4" height="8.37" fill="#98e0a0"/><rect x="381.55" y="57.41" width="8.4" height="8.37" fill="#a8dc58"/><rect x="389.35" y="57.41" width="8.4" height="8.37" fill="#a8dc58"/><rect x="397.15" y="57.41" width="8.4" height="8.37" fill="#4874c2"/><rect x="404.95" y="57.41" width="8.4" height="8.37" fill="#88d8e0"/><rect x="412.75" y="57.41" width="7.8" height="8.37" fill="#98e0a0"/>
<rect x="287.95" y="65.18" width="8.4" height="8.37" fill="#462a9a"/><rect x="295.75" y="65.18" width="8.4" height="8.37" fill="#f8c814"/><rect x="303.55" y="65.18" width="8.4" height="8.37" fill="#cce028"/><rect x="311.35" y="65.18" width="8.4" height="8.37" fill="#a0dc70"/><rect x="319.15" y="65.18" width="8.4" height="8.37" fill="#98e0b8"/><rect x="326.95" y="65.18" width="8.4" height="8.37" fill="#98e0b8"/><rect x="334.75" y="65.18" width="8.4" height="8.37" fill="#98e0b8"/><rect x="342.55" y="65.18" width="8.4" height="8.37" fill="#98e0b8"/><rect x="350.35" y="65.18" width="8.4" height="8.37" fill="#a0e4d8"/><rect x="358.15" y="65.18" width="8.4" height="8.37" fill="#70c8e0"/><rect x="365.95" y="65.18" width="8.4" height="8.37" fill="#60b8e0"/><rect x="373.75" y="65.18" width="8.4" height="8.37" fill="#88d8e0"/><rect x="381.55" y="65.18" width="8.4" height="8.37" fill="#a0e4d8"/><rect x="389.35" y="65.18" width="8.4" height="8.37" fill="#a0dc70"/><rect x="397.15" y="65.18" width="8.4" height="8.37" fill="#a0dc70"/><rect x="404.95" y="65.18" width="8.4" height="8.37" fill="#4874c2"/><rect x="412.75" y="65.18" width="8.4" height="8.37" fill="#88d8e0"/><rect x="420.55" y="65.18" width="7.8" height="8.37" fill="#98e0a0"/>
<rect x="280.15" y="72.95" width="8.4" height="8.37" fill="#462a9a"/><rect x="287.95" y="72.95" width="8.4" height="8.37" fill="#f8c814"/><rect x="295.75" y="72.95" width="8.4" height="8.37" fill="#cce028"/><rect x="303.55" y="72.95" width="8.4" height="8.37" fill="#a8dc58"/><rect x="311.35" y="72.95" width="8.4" height="8.37" fill="#a8dc58"/><rect x="319.15" y="72.95" width="8.4" height="8.37" fill="#b4dc48"/><rect x="326.95" y="72.95" width="8.4" height="8.37" fill="#a8dc58"/><rect x="334.75" y="72.95" width="8.4" height="8.37" fill="#a0dc70"/><rect x="342.55" y="72.95" width="8.4" height="8.37" fill="#98e0a0"/><rect x="350.35" y="72.95" width="8.4" height="8.37" fill="#98e0b8"/><rect x="358.15" y="72.95" width="8.4" height="8.37" fill="#98e0b8"/><rect x="365.95" y="72.95" width="8.4" height="8.37" fill="#a0e4d8"/><rect x="373.75" y="72.95" width="8.4" height="8.37" fill="#5090d0"/><rect x="381.55" y="72.95" width="8.4" height="8.37" fill="#60b8e0"/><rect x="389.35" y="72.95" width="8.4" height="8.37" fill="#a0e4d8"/><rect x="397.15" y="72.95" width="8.4" height="8.37" fill="#98e0a0"/><rect x="404.95" y="72.95" width="8.4" height="8.37" fill="#a0e4d8"/><rect x="412.75" y="72.95" width="8.4" height="8.37" fill="#5090d0"/><rect x="420.55" y="72.95" width="8.4" height="8.37" fill="#a0e4d8"/><rect x="428.35" y="72.95" width="7.8" height="8.37" fill="#70c8e0"/>
<rect x="280.15" y="80.72" width="8.4" height="8.37" fill="#f59010"/><rect x="287.95" y="80.72" width="8.4" height="8.37" fill="#e0e010"/><rect x="295.75" y="80.72" width="8.4" height="8.37" fill="#cce028"/><rect x="303.55" y="80.72" width="8.4" height="8.37" fill="#f4e038"/><rect x="311.35" y="80.72" width="8.4" height="8.37" fill="#cce028"/><rect x="319.15" y="80.72" width="8.4" height="8.37" fill="#a0dc70"/><rect x="326.95" y="80.72" width="8.4" height="8.37" fill="#98e0a0"/><rect x="334.75" y="80.72" width="8.4" height="8.37" fill="#a0e4d8"/><rect x="342.55" y="80.72" width="8.4" height="8.37" fill="#a0e4d8"/><rect x="350.35" y="80.72" width="8.4" height="8.37" fill="#a0e4d8"/><rect x="358.15" y="80.72" width="8.4" height="8.37" fill="#a0e4d8"/><rect x="365.95" y="80.72" width="8.4" height="8.37" fill="#a0e4d8"/><rect x="373.75" y="80.72" width="8.4" height="8.37" fill="#88d8e0"/><rect x="381.55" y="80.72" width="8.4" height="8.37" fill="#5090d0"/><rect x="389.35" y="80.72" width="8.4" height="8.37" fill="#60b8e0"/><rect x="397.15" y="80.72" width="8.4" height="8.37" fill="#a0e4d8"/><rect x="404.95" y="80.72" width="8.4" height="8.37" fill="#98e0b8"/><rect x="412.75" y="80.72" width="8.4" height="8.37" fill="#4874c2"/><rect x="420.55" y="80.72" width="8.4" height="8.37" fill="#60b8e0"/><rect x="428.35" y="80.72" width="7.8" height="8.37" fill="#98e0a0"/>
<rect x="272.35" y="88.49" width="8.4" height="8.37" fill="#e03810"/><rect x="280.15" y="88.49" width="8.4" height="8.37" fill="#f8c814"/><rect x="287.95" y="88.49" width="8.4" height="8.37" fill="#cce028"/><rect x="295.75" y="88.49" width="8.4" height="8.37" fill="#f4e038"/><rect x="303.55" y="88.49" width="8.4" height="8.37" fill="#cce028"/><rect x="311.35" y="88.49" width="8.4" height="8.37" fill="#a0dc70"/><rect x="319.15" y="88.49" width="8.4" height="8.37" fill="#98e0b8"/><rect x="326.95" y="88.49" width="8.4" height="8.37" fill="#a0e4d8"/><rect x="334.75" y="88.49" width="8.4" height="8.37" fill="#88d8e0"/><rect x="342.55" y="88.49" width="8.4" height="8.37" fill="#70c8e0"/><rect x="350.35" y="88.49" width="8.4" height="8.37" fill="#70c8e0"/><rect x="358.15" y="88.49" width="8.4" height="8.37" fill="#70c8e0"/><rect x="365.95" y="88.49" width="8.4" height="8.37" fill="#88d8e0"/><rect x="373.75" y="88.49" width="8.4" height="8.37" fill="#a0e4d8"/><rect x="381.55" y="88.49" width="8.4" height="8.37" fill="#60b8e0"/><rect x="389.35" y="88.49" width="8.4" height="8.37" fill="#4874c2"/><rect x="397.15" y="88.49" width="8.4" height="8.37" fill="#60b8e0"/><rect x="404.95" y="88.49" width="8.4" height="8.37" fill="#a0e4d8"/><rect x="412.75" y="88.49" width="8.4" height="8.37" fill="#88d8e0"/><rect x="420.55" y="88.49" width="8.4" height="8.37" fill="#4874c2"/><rect x="428.35" y="88.49" width="8.4" height="8.37" fill="#a0e4d8"/><rect x="436.15" y="88.49" width="7.8" height="8.37" fill="#462a9a"/>
<rect x="272.35" y="96.26" width="8.4" height="8.37" fill="#e03810"/><rect x="280.15" y="96.26" width="8.4" height="8.37" fill="#f4e038"/><rect x="287.95" y="96.26" width="8.4" height="8.37" fill="#f4e038"/><rect x="295.75" y="96.26" width="8.4" height="8.37" fill="#f4e038"/><rect x="303.55" y="96.26" width="8.4" height="8.37" fill="#cce028"/><rect x="311.35" y="96.26" width="8.4" height="8.37" fill="#98e0a0"/><rect x="319.15" y="96.26" width="8.4" height="8.37" fill="#a0e4d8"/><rect x="326.95" y="96.26" width="8.4" height="8.37" fill="#98e0b8"/><rect x="334.75" y="96.26" width="8.4" height="8.37" fill="#cce028"/><rect x="342.55" y="96.26" width="8.4" height="8.37" fill="#cce028"/><rect x="350.35" y="96.26" width="8.4" height="8.37" fill="#a0e4d8"/><rect x="358.15" y="96.26" width="8.4" height="8.37" fill="#60b8e0"/><rect x="365.95" y="96.26" width="8.4" height="8.37" fill="#70c8e0"/><rect x="373.75" y="96.26" width="8.4" height="8.37" fill="#a0e4d8"/><rect x="381.55" y="96.26" width="8.4" height="8.37" fill="#a0e4d8"/><rect x="389.35" y="96.26" width="8.4" height="8.37" fill="#4874c2"/><rect x="397.15" y="96.26" width="8.4" height="8.37" fill="#5090d0"/><rect x="404.95" y="96.26" width="8.4" height="8.37" fill="#a0e4d8"/><rect x="412.75" y="96.26" width="8.4" height="8.37" fill="#98e0b8"/><rect x="420.55" y="96.26" width="8.4" height="8.37" fill="#4874c2"/><rect x="428.35" y="96.26" width="8.4" height="8.37" fill="#a0e4d8"/><rect x="436.15" y="96.26" width="7.8" height="8.37" fill="#a0dc70"/>
<rect x="272.35" y="104.03" width="8.4" height="8.37" fill="#e03810"/><rect x="280.15" y="104.03" width="8.4" height="8.37" fill="#f4e038"/><rect x="287.95" y="104.03" width="8.4" height="8.37" fill="#f8d428"/><rect x="295.75" y="104.03" width="8.4" height="8.37" fill="#f4e038"/><rect x="303.55" y="104.03" width="8.4" height="8.37" fill="#a8dc58"/><rect x="311.35" y="104.03" width="8.4" height="8.37" fill="#98e0b8"/><rect x="319.15" y="104.03" width="8.4" height="8.37" fill="#98e0a0"/><rect x="326.95" y="104.03" width="8.4" height="8.37" fill="#f4e038"/><rect x="334.75" y="104.03" width="8.4" height="8.37" fill="#f4e038"/><rect x="342.55" y="104.03" width="8.4" height="8.37" fill="#f4e038"/><rect x="350.35" y="104.03" width="8.4" height="8.37" fill="#f4e038"/><rect x="358.15" y="104.03" width="8.4" height="8.37" fill="#a0e4d8"/><rect x="365.95" y="104.03" width="8.4" height="8.37" fill="#60b8e0"/><rect x="373.75" y="104.03" width="8.4" height="8.37" fill="#88d8e0"/><rect x="381.55" y="104.03" width="8.4" height="8.37" fill="#a0e4d8"/><rect x="389.35" y="104.03" width="8.4" height="8.37" fill="#5090d0"/><rect x="397.15" y="104.03" width="8.4" height="8.37" fill="#4874c2"/><rect x="404.95" y="104.03" width="8.4" height="8.37" fill="#88d8e0"/><rect x="412.75" y="104.03" width="8.4" height="8.37" fill="#98e0b8"/><rect x="420.55" y="104.03" width="8.4" height="8.37" fill="#5090d0"/><rect x="428.35" y="104.03" width="8.4" height="8.37" fill="#70c8e0"/><rect x="436.15" y="104.03" width="7.8" height="8.37" fill="#60b8e0"/>
<rect x="272.35" y="111.8" width="8.4" height="8.37" fill="#e85010"/><rect x="280.15" y="111.8" width="8.4" height="8.37" fill="#f4e038"/><rect x="287.95" y="111.8" width="8.4" height="8.37" fill="#f8d428"/><rect x="295.75" y="111.8" width="8.4" height="8.37" fill="#f4e038"/><rect x="303.55" y="111.8" width="8.4" height="8.37" fill="#a8dc58"/><rect x="311.35" y="111.8" width="8.4" height="8.37" fill="#98e0b8"/><rect x="319.15" y="111.8" width="8.4" height="8.37" fill="#a0dc70"/><rect x="326.95" y="111.8" width="8.4" height="8.37" fill="#f4e038"/><rect x="334.75" y="111.8" width="8.4" height="8.37" fill="#f4e038"/><rect x="342.55" y="111.8" width="8.4" height="8.37" fill="#f4e038"/><rect x="350.35" y="111.8" width="8.4" height="8.37" fill="#f4e038"/><rect x="358.15" y="111.8" width="8.4" height="8.37" fill="#b4dc48"/><rect x="365.95" y="111.8" width="8.4" height="8.37" fill="#58a4dc"/><rect x="373.75" y="111.8" width="8.4" height="8.37" fill="#70c8e0"/><rect x="381.55" y="111.8" width="8.4" height="8.37" fill="#a0e4d8"/><rect x="389.35" y="111.8" width="8.4" height="8.37" fill="#60b8e0"/><rect x="397.15" y="111.8" width="8.4" height="8.37" fill="#4874c2"/><rect x="404.95" y="111.8" width="8.4" height="8.37" fill="#88d8e0"/><rect x="412.75" y="111.8" width="8.4" height="8.37" fill="#a0e4d8"/><rect x="420.55" y="111.8" width="8.4" height="8.37" fill="#88d8e0"/><rect x="428.35" y="111.8" width="8.4" height="8.37" fill="#5090d0"/><rect x="436.15" y="111.8" width="7.8" height="8.37" fill="#f4e038"/>
<rect x="272.35" y="119.57" width="8.4" height="8.37" fill="#e03810"/><rect x="280.15" y="119.57" width="8.4" height="8.37" fill="#f4e038"/><rect x="287.95" y="119.57" width="8.4" height="8.37" fill="#f8d428"/><rect x="295.75" y="119.57" width="8.4" height="8.37" fill="#f4e038"/><rect x="303.55" y="119.57" width="8.4" height="8.37" fill="#a8dc58"/><rect x="311.35" y="119.57" width="8.4" height="8.37" fill="#98e0b8"/><rect x="319.15" y="119.57" width="8.4" height="8.37" fill="#98e0a0"/><rect x="326.95" y="119.57" width="8.4" height="8.37" fill="#f4e038"/><rect x="334.75" y="119.57" width="8.4" height="8.37" fill="#f4e038"/><rect x="342.55" y="119.57" width="8.4" height="8.37" fill="#f4e038"/><rect x="350.35" y="119.57" width="8.4" height="8.37" fill="#f4e038"/><rect x="358.15" y="119.57" width="8.4" height="8.37" fill="#a0e4d8"/><rect x="365.95" y="119.57" width="8.4" height="8.37" fill="#60b8e0"/><rect x="373.75" y="119.57" width="8.4" height="8.37" fill="#88d8e0"/><rect x="381.55" y="119.57" width="8.4" height="8.37" fill="#a0e4d8"/><rect x="389.35" y="119.57" width="8.4" height="8.37" fill="#5090d0"/><rect x="397.15" y="119.57" width="8.4" height="8.37" fill="#4874c2"/><rect x="404.95" y="119.57" width="8.4" height="8.37" fill="#88d8e0"/><rect x="412.75" y="119.57" width="8.4" height="8.37" fill="#98e0b8"/><rect x="420.55" y="119.57" width="8.4" height="8.37" fill="#5090d0"/><rect x="428.35" y="119.57" width="8.4" height="8.37" fill="#70c8e0"/><rect x="436.15" y="119.57" width="7.8" height="8.37" fill="#60b8e0"/>
<rect x="272.35" y="127.34" width="8.4" height="8.37" fill="#e03810"/><rect x="280.15" y="127.34" width="8.4" height="8.37" fill="#f4e038"/><rect x="287.95" y="127.34" width="8.4" height="8.37" fill="#f4e038"/><rect x="295.75" y="127.34" width="8.4" height="8.37" fill="#f4e038"/><rect x="303.55" y="127.34" width="8.4" height="8.37" fill="#cce028"/><rect x="311.35" y="127.34" width="8.4" height="8.37" fill="#98e0a0"/><rect x="319.15" y="127.34" width="8.4" height="8.37" fill="#a0e4d8"/><rect x="326.95" y="127.34" width="8.4" height="8.37" fill="#98e0b8"/><rect x="334.75" y="127.34" width="8.4" height="8.37" fill="#cce028"/><rect x="342.55" y="127.34" width="8.4" height="8.37" fill="#cce028"/><rect x="350.35" y="127.34" width="8.4" height="8.37" fill="#a0e4d8"/><rect x="358.15" y="127.34" width="8.4" height="8.37" fill="#60b8e0"/><rect x="365.95" y="127.34" width="8.4" height="8.37" fill="#70c8e0"/><rect x="373.75" y="127.34" width="8.4" height="8.37" fill="#a0e4d8"/><rect x="381.55" y="127.34" width="8.4" height="8.37" fill="#a0e4d8"/><rect x="389.35" y="127.34" width="8.4" height="8.37" fill="#4874c2"/><rect x="397.15" y="127.34" width="8.4" height="8.37" fill="#5090d0"/><rect x="404.95" y="127.34" width="8.4" height="8.37" fill="#a0e4d8"/><rect x="412.75" y="127.34" width="8.4" height="8.37" fill="#98e0b8"/><rect x="420.55" y="127.34" width="8.4" height="8.37" fill="#4874c2"/><rect x="428.35" y="127.34" width="8.4" height="8.37" fill="#a0e4d8"/><rect x="436.15" y="127.34" width="7.8" height="8.37" fill="#a0dc70"/>
<rect x="272.35" y="135.11" width="8.4" height="7.77" fill="#e03810"/><rect x="280.15" y="135.11" width="8.4" height="8.37" fill="#f8c814"/><rect x="287.95" y="135.11" width="8.4" height="8.37" fill="#cce028"/><rect x="295.75" y="135.11" width="8.4" height="8.37" fill="#f4e038"/><rect x="303.55" y="135.11" width="8.4" height="8.37" fill="#cce028"/><rect x="311.35" y="135.11" width="8.4" height="8.37" fill="#a0dc70"/><rect x="319.15" y="135.11" width="8.4" height="8.37" fill="#98e0b8"/><rect x="326.95" y="135.11" width="8.4" height="8.37" fill="#a0e4d8"/><rect x="334.75" y="135.11" width="8.4" height="8.37" fill="#88d8e0"/><rect x="342.55" y="135.11" width="8.4" height="8.37" fill="#70c8e0"/><rect x="350.35" y="135.11" width="8.4" height="8.37" fill="#70c8e0"/><rect x="358.15" y="135.11" width="8.4" height="8.37" fill="#60b8e0"/><rect x="365.95" y="135.11" width="8.4" height="8.37" fill="#88d8e0"/><rect x="373.75" y="135.11" width="8.4" height="8.37" fill="#a0e4d8"/><rect x="381.55" y="135.11" width="8.4" height="8.37" fill="#60b8e0"/><rect x="389.35" y="135.11" width="8.4" height="8.37" fill="#4874c2"/><rect x="397.15" y="135.11" width="8.4" height="8.37" fill="#60b8e0"/><rect x="404.95" y="135.11" width="8.4" height="8.37" fill="#a0e4d8"/><rect x="412.75" y="135.11" width="8.4" height="8.37" fill="#88d8e0"/><rect x="420.55" y="135.11" width="8.4" height="8.37" fill="#4874c2"/><rect x="428.35" y="135.11" width="8.4" height="8.37" fill="#a0e4d8"/><rect x="436.15" y="135.11" width="7.8" height="7.77" fill="#462a9a"/>
<rect x="280.15" y="142.88" width="8.4" height="8.37" fill="#f59010"/><rect x="287.95" y="142.88" width="8.4" height="8.37" fill="#e0e010"/><rect x="295.75" y="142.88" width="8.4" height="8.37" fill="#cce028"/><rect x="303.55" y="142.88" width="8.4" height="8.37" fill="#f4e038"/><rect x="311.35" y="142.88" width="8.4" height="8.37" fill="#cce028"/><rect x="319.15" y="142.88" width="8.4" height="8.37" fill="#a0dc70"/><rect x="326.95" y="142.88" width="8.4" height="8.37" fill="#98e0b8"/><rect x="334.75" y="142.88" width="8.4" height="8.37" fill="#a0e4d8"/><rect x="342.55" y="142.88" width="8.4" height="8.37" fill="#a0e4d8"/><rect x="350.35" y="142.88" width="8.4" height="8.37" fill="#a0e4d8"/><rect x="358.15" y="142.88" width="8.4" height="8.37" fill="#a0e4d8"/><rect x="365.95" y="142.88" width="8.4" height="8.37" fill="#a0e4d8"/><rect x="373.75" y="142.88" width="8.4" height="8.37" fill="#88d8e0"/><rect x="381.55" y="142.88" width="8.4" height="8.37" fill="#5090d0"/><rect x="389.35" y="142.88" width="8.4" height="8.37" fill="#60b8e0"/><rect x="397.15" y="142.88" width="8.4" height="8.37" fill="#a0e4d8"/><rect x="404.95" y="142.88" width="8.4" height="8.37" fill="#98e0b8"/><rect x="412.75" y="142.88" width="8.4" height="8.37" fill="#4874c2"/><rect x="420.55" y="142.88" width="8.4" height="8.37" fill="#60b8e0"/><rect x="428.35" y="142.88" width="7.8" height="8.37" fill="#98e0a0"/>
<rect x="280.15" y="150.65" width="8.4" height="7.77" fill="#462a9a"/><rect x="287.95" y="150.65" width="8.4" height="8.37" fill="#f8c814"/><rect x="295.75" y="150.65" width="8.4" height="8.37" fill="#cce028"/><rect x="303.55" y="150.65" width="8.4" height="8.37" fill="#a8dc58"/><rect x="311.35" y="150.65" width="8.4" height="8.37" fill="#b4dc48"/><rect x="319.15" y="150.65" width="8.4" height="8.37" fill="#a8dc58"/><rect x="326.95" y="150.65" width="8.4" height="8.37" fill="#a0dc70"/><rect x="334.75" y="150.65" width="8.4" height="8.37" fill="#98e0a0"/><rect x="342.55" y="150.65" width="8.4" height="8.37" fill="#98e0a0"/><rect x="350.35" y="150.65" width="8.4" height="8.37" fill="#98e0b8"/><rect x="358.15" y="150.65" width="8.4" height="8.37" fill="#98e0b8"/><rect x="365.95" y="150.65" width="8.4" height="8.37" fill="#a0e4d8"/><rect x="373.75" y="150.65" width="8.4" height="8.37" fill="#5090d0"/><rect x="381.55" y="150.65" width="8.4" height="8.37" fill="#60b8e0"/><rect x="389.35" y="150.65" width="8.4" height="8.37" fill="#a0e4d8"/><rect x="397.15" y="150.65" width="8.4" height="8.37" fill="#98e0a0"/><rect x="404.95" y="150.65" width="8.4" height="8.37" fill="#a0e4d8"/><rect x="412.75" y="150.65" width="8.4" height="8.37" fill="#5090d0"/><rect x="420.55" y="150.65" width="8.4" height="8.37" fill="#a0e4d8"/><rect x="428.35" y="150.65" width="7.8" height="7.77" fill="#70c8e0"/>
<rect x="287.95" y="158.42" width="8.4" height="7.77" fill="#462a9a"/><rect x="295.75" y="158.42" width="8.4" height="8.37" fill="#f8c814"/><rect x="303.55" y="158.42" width="8.4" height="8.37" fill="#cce028"/><rect x="311.35" y="158.42" width="8.4" height="8.37" fill="#a0dc70"/><rect x="319.15" y="158.42" width="8.4" height="8.37" fill="#98e0b8"/><rect x="326.95" y="158.42" width="8.4" height="8.37" fill="#98e0b8"/><rect x="334.75" y="158.42" width="8.4" height="8.37" fill="#98e0b8"/><rect x="342.55" y="158.42" width="8.4" height="8.37" fill="#98e0b8"/><rect x="350.35" y="158.42" width="8.4" height="8.37" fill="#a0e4d8"/><rect x="358.15" y="158.42" width="8.4" height="8.37" fill="#70c8e0"/><rect x="365.95" y="158.42" width="8.4" height="8.37" fill="#60b8e0"/><rect x="373.75" y="158.42" width="8.4" height="8.37" fill="#88d8e0"/><rect x="381.55" y="158.42" width="8.4" height="8.37" fill="#a0e4d8"/><rect x="389.35" y="158.42" width="8.4" height="8.37" fill="#a0dc70"/><rect x="397.15" y="158.42" width="8.4" height="8.37" fill="#a0dc70"/><rect x="404.95" y="158.42" width="8.4" height="8.37" fill="#4874c2"/><rect x="412.75" y="158.42" width="8.4" height="8.37" fill="#88d8e0"/><rect x="420.55" y="158.42" width="7.8" height="7.77" fill="#98e0a0"/>
<rect x="295.75" y="166.19" width="8.4" height="7.77" fill="#462a9a"/><rect x="303.55" y="166.19" width="8.4" height="8.37" fill="#f59010"/><rect x="311.35" y="166.19" width="8.4" height="8.37" fill="#e0e010"/><rect x="319.15" y="166.19" width="8.4" height="8.37" fill="#a8dc58"/><rect x="326.95" y="166.19" width="8.4" height="8.37" fill="#98e0b8"/><rect x="334.75" y="166.19" width="8.4" height="8.37" fill="#a0e4d8"/><rect x="342.55" y="166.19" width="8.4" height="8.37" fill="#a0e4d8"/><rect x="350.35" y="166.19" width="8.4" height="8.37" fill="#a0e4d8"/><rect x="358.15" y="166.19" width="8.4" height="8.37" fill="#a0e4d8"/><rect x="365.95" y="166.19" width="8.4" height="8.37" fill="#a0e4d8"/><rect x="373.75" y="166.19" width="8.4" height="8.37" fill="#98e0a0"/><rect x="381.55" y="166.19" width="8.4" height="8.37" fill="#a8dc58"/><rect x="389.35" y="166.19" width="8.4" height="8.37" fill="#a8dc58"/><rect x="397.15" y="166.19" width="8.4" height="8.37" fill="#4874c2"/><rect x="404.95" y="166.19" width="8.4" height="8.37" fill="#88d8e0"/><rect x="412.75" y="166.19" width="7.8" height="7.77" fill="#98e0a0"/>
<rect x="303.55" y="173.96" width="8.4" height="7.77" fill="#60b8e0"/><rect x="311.35" y="173.96" width="8.4" height="8.37" fill="#f06c10"/><rect x="319.15" y="173.96" width="8.4" height="8.37" fill="#f8c814"/><rect x="326.95" y="173.96" width="8.4" height="8.37" fill="#e0e010"/><rect x="334.75" y="173.96" width="8.4" height="8.37" fill="#cce028"/><rect x="342.55" y="173.96" width="8.4" height="8.37" fill="#b4dc48"/><rect x="350.35" y="173.96" width="8.4" height="8.37" fill="#a8dc58"/><rect x="358.15" y="173.96" width="8.4" height="8.37" fill="#b4dc48"/><rect x="365.95" y="173.96" width="8.4" height="8.37" fill="#c2d826"/><rect x="373.75" y="173.96" width="8.4" height="8.37" fill="#c2d826"/><rect x="381.55" y="173.96" width="8.4" height="8.37" fill="#98e0b8"/><rect x="389.35" y="173.96" width="8.4" height="8.37" fill="#5090d0"/><rect x="397.15" y="173.96" width="8.4" height="8.37" fill="#a0e4d8"/><rect x="404.95" y="173.96" width="7.8" height="7.77" fill="#a0dc70"/>
<rect x="311.35" y="181.73" width="8.4" height="7.77" fill="#98e0a0"/><rect x="319.15" y="181.73" width="8.4" height="7.77" fill="#88d8e0"/><rect x="326.95" y="181.73" width="8.4" height="7.77" fill="#a0e4d8"/><rect x="334.75" y="181.73" width="8.4" height="8.37" fill="#f59010"/><rect x="342.55" y="181.73" width="8.4" height="8.37" fill="#e85010"/><rect x="350.35" y="181.73" width="8.4" height="8.37" fill="#f8c814"/><rect x="358.15" y="181.73" width="8.4" height="8.37" fill="#88d8e0"/><rect x="365.95" y="181.73" width="8.4" height="8.37" fill="#70c8e0"/><rect x="373.75" y="181.73" width="8.4" height="8.37" fill="#70c8e0"/><rect x="381.55" y="181.73" width="8.4" height="7.77" fill="#a0e4d8"/><rect x="389.35" y="181.73" width="8.4" height="7.77" fill="#98e0a0"/><rect x="397.15" y="181.73" width="7.8" height="7.77" fill="#c2d826"/>
<rect x="334.75" y="189.5" width="8.4" height="7.77" fill="#98e0a0"/><rect x="342.55" y="189.5" width="8.4" height="7.77" fill="#98e0b8"/><rect x="350.35" y="189.5" width="8.4" height="7.77" fill="#a0e4d8"/><rect x="358.15" y="189.5" width="8.4" height="7.77" fill="#98e0b8"/><rect x="365.95" y="189.5" width="8.4" height="7.77" fill="#98e0a0"/><rect x="373.75" y="189.5" width="7.8" height="7.77" fill="#a0dc70"/>
</g>
<rect x="264.7" y="8.65" width="23.66" height="10" fill="url(#g1)"/>
<rect x="288.06" y="8.65" width="47.03" height="10" fill="url(#g2)"/>
<rect x="334.79" y="8.65" width="47.02" height="10" fill="url(#g3)"/>
<rect x="381.51" y="8.65" width="47.03" height="10" fill="url(#g4)"/>
<rect x="428.24" y="8.65" width="23.36" height="10" fill="url(#g5)"/>
<line x1="295.85" y1="8.65" x2="295.85" y2="10.85" stroke="#777777" stroke-width="0.6"/><line x1="295.85" y1="18.65" x2="295.85" y2="16.45" stroke="#777777" stroke-width="0.6"/>
<line x1="327" y1="8.65" x2="327" y2="10.85" stroke="#777777" stroke-width="0.6"/><line x1="327" y1="18.65" x2="327" y2="16.45" stroke="#777777" stroke-width="0.6"/>
<line x1="358.15" y1="8.65" x2="358.15" y2="10.85" stroke="#777777" stroke-width="0.6"/><line x1="358.15" y1="18.65" x2="358.15" y2="16.45" stroke="#777777" stroke-width="0.6"/>
<line x1="389.3" y1="8.65" x2="389.3" y2="10.85" stroke="#777777" stroke-width="0.6"/><line x1="389.3" y1="18.65" x2="389.3" y2="16.45" stroke="#777777" stroke-width="0.6"/>
<line x1="420.45" y1="8.65" x2="420.45" y2="10.85" stroke="#777777" stroke-width="0.6"/><line x1="420.45" y1="18.65" x2="420.45" y2="16.45" stroke="#777777" stroke-width="0.6"/>
<rect x="264.7" y="8.65" width="186.9" height="10" fill="none" stroke="#3c3c3c" stroke-width="0.8"/>
<text class="t" x="264.7" y="6.7" text-anchor="middle">−360</text>
<text class="t" x="295.85" y="6.7" text-anchor="middle">−300</text>
<text class="t" x="327" y="6.7" text-anchor="middle">−240</text>
<text class="t" x="358.15" y="6.7" text-anchor="middle">−180</text>
<text class="t" x="389.3" y="6.7" text-anchor="middle">−120</text>
<text class="t" x="420.45" y="6.7" text-anchor="middle">−60</text>
<text class="t" x="451.6" y="6.7" text-anchor="middle">0</text>
<path d="M265 26.5H451.5V204.5H265Z" fill="none" stroke="#3c3c3c" stroke-width="1"/>
<line x1="270.28" y1="26.5" x2="270.28" y2="29.3" stroke="#777777" stroke-width="0.6"/><line x1="270.28" y1="204.5" x2="270.28" y2="201.7" stroke="#777777" stroke-width="0.6"/><line x1="265" y1="203" x2="267.8" y2="203" stroke="#777777" stroke-width="0.6"/><line x1="451.4" y1="203" x2="448.6" y2="203" stroke="#777777" stroke-width="0.6"/>
<text class="t" x="270.28" y="213.1" text-anchor="middle">−100</text>
<text class="t" x="262.4" y="206.45" text-anchor="end">−100</text>
<line x1="287.86" y1="26.5" x2="287.86" y2="29.3" stroke="#777777" stroke-width="0.6"/><line x1="287.86" y1="204.5" x2="287.86" y2="201.7" stroke="#777777" stroke-width="0.6"/><line x1="265" y1="185.46" x2="267.8" y2="185.46" stroke="#777777" stroke-width="0.6"/><line x1="451.4" y1="185.46" x2="448.6" y2="185.46" stroke="#777777" stroke-width="0.6"/>
<text class="t" x="287.86" y="213.1" text-anchor="middle">−80</text>
<text class="t" x="262.4" y="188.91" text-anchor="end">−80</text>
<line x1="305.45" y1="26.5" x2="305.45" y2="29.3" stroke="#777777" stroke-width="0.6"/><line x1="305.45" y1="204.5" x2="305.45" y2="201.7" stroke="#777777" stroke-width="0.6"/><line x1="265" y1="167.92" x2="267.8" y2="167.92" stroke="#777777" stroke-width="0.6"/><line x1="451.4" y1="167.92" x2="448.6" y2="167.92" stroke="#777777" stroke-width="0.6"/>
<text class="t" x="305.45" y="213.1" text-anchor="middle">−60</text>
<text class="t" x="262.4" y="171.37" text-anchor="end">−60</text>
<line x1="323.03" y1="26.5" x2="323.03" y2="29.3" stroke="#777777" stroke-width="0.6"/><line x1="323.03" y1="204.5" x2="323.03" y2="201.7" stroke="#777777" stroke-width="0.6"/><line x1="265" y1="150.38" x2="267.8" y2="150.38" stroke="#777777" stroke-width="0.6"/><line x1="451.4" y1="150.38" x2="448.6" y2="150.38" stroke="#777777" stroke-width="0.6"/>
<text class="t" x="323.03" y="213.1" text-anchor="middle">−40</text>
<text class="t" x="262.4" y="153.83" text-anchor="end">−40</text>
<line x1="340.62" y1="26.5" x2="340.62" y2="29.3" stroke="#777777" stroke-width="0.6"/><line x1="340.62" y1="204.5" x2="340.62" y2="201.7" stroke="#777777" stroke-width="0.6"/><line x1="265" y1="132.84" x2="267.8" y2="132.84" stroke="#777777" stroke-width="0.6"/><line x1="451.4" y1="132.84" x2="448.6" y2="132.84" stroke="#777777" stroke-width="0.6"/>
<text class="t" x="340.62" y="213.1" text-anchor="middle">−20</text>
<text class="t" x="262.4" y="136.29" text-anchor="end">−20</text>
<line x1="358.2" y1="26.5" x2="358.2" y2="29.3" stroke="#777777" stroke-width="0.6"/><line x1="358.2" y1="204.5" x2="358.2" y2="201.7" stroke="#777777" stroke-width="0.6"/><line x1="265" y1="115.3" x2="267.8" y2="115.3" stroke="#777777" stroke-width="0.6"/><line x1="451.4" y1="115.3" x2="448.6" y2="115.3" stroke="#777777" stroke-width="0.6"/>
<text class="t" x="358.2" y="213.1" text-anchor="middle">0</text>
<text class="t" x="262.4" y="118.75" text-anchor="end">0</text>
<line x1="375.78" y1="26.5" x2="375.78" y2="29.3" stroke="#777777" stroke-width="0.6"/><line x1="375.78" y1="204.5" x2="375.78" y2="201.7" stroke="#777777" stroke-width="0.6"/><line x1="265" y1="97.76" x2="267.8" y2="97.76" stroke="#777777" stroke-width="0.6"/><line x1="451.4" y1="97.76" x2="448.6" y2="97.76" stroke="#777777" stroke-width="0.6"/>
<text class="t" x="375.78" y="213.1" text-anchor="middle">20</text>
<text class="t" x="262.4" y="101.21" text-anchor="end">20</text>
<line x1="393.37" y1="26.5" x2="393.37" y2="29.3" stroke="#777777" stroke-width="0.6"/><line x1="393.37" y1="204.5" x2="393.37" y2="201.7" stroke="#777777" stroke-width="0.6"/><line x1="265" y1="80.22" x2="267.8" y2="80.22" stroke="#777777" stroke-width="0.6"/><line x1="451.4" y1="80.22" x2="448.6" y2="80.22" stroke="#777777" stroke-width="0.6"/>
<text class="t" x="393.37" y="213.1" text-anchor="middle">40</text>
<text class="t" x="262.4" y="83.67" text-anchor="end">40</text>
<line x1="410.95" y1="26.5" x2="410.95" y2="29.3" stroke="#777777" stroke-width="0.6"/><line x1="410.95" y1="204.5" x2="410.95" y2="201.7" stroke="#777777" stroke-width="0.6"/><line x1="265" y1="62.68" x2="267.8" y2="62.68" stroke="#777777" stroke-width="0.6"/><line x1="451.4" y1="62.68" x2="448.6" y2="62.68" stroke="#777777" stroke-width="0.6"/>
<text class="t" x="410.95" y="213.1" text-anchor="middle">60</text>
<text class="t" x="262.4" y="66.13" text-anchor="end">60</text>
<line x1="428.54" y1="26.5" x2="428.54" y2="29.3" stroke="#777777" stroke-width="0.6"/><line x1="428.54" y1="204.5" x2="428.54" y2="201.7" stroke="#777777" stroke-width="0.6"/><line x1="265" y1="45.14" x2="267.8" y2="45.14" stroke="#777777" stroke-width="0.6"/><line x1="451.4" y1="45.14" x2="448.6" y2="45.14" stroke="#777777" stroke-width="0.6"/>
<text class="t" x="428.54" y="213.1" text-anchor="middle">80</text>
<text class="t" x="262.4" y="48.59" text-anchor="end">80</text>
<line x1="446.12" y1="26.5" x2="446.12" y2="29.3" stroke="#777777" stroke-width="0.6"/><line x1="446.12" y1="204.5" x2="446.12" y2="201.7" stroke="#777777" stroke-width="0.6"/><line x1="265" y1="27.6" x2="267.8" y2="27.6" stroke="#777777" stroke-width="0.6"/><line x1="451.4" y1="27.6" x2="448.6" y2="27.6" stroke="#777777" stroke-width="0.6"/>
<text class="t" x="446.12" y="213.1" text-anchor="middle">100</text>
<text class="t" x="262.4" y="31.05" text-anchor="end">100</text>
<text class="l" x="358.7" y="224.6" text-anchor="middle"><tspan font-style="italic">x</tspan> (mm)</text>
<text class="l" transform="translate(237.8,114.5) rotate(-90)" text-anchor="middle"><tspan font-style="italic">y</tspan> (mm)</text>
<text class="p" x="360" y="240.9" text-anchor="middle">(b)</text>
<g>
<rect x="565.8" y="34.1" width="8.4" height="8.37" fill="#98e0b8"/><rect x="573.6" y="34.1" width="8.4" height="8.37" fill="#a0e4d8"/><rect x="581.4" y="34.1" width="8.4" height="8.37" fill="#a0e4d8"/><rect x="589.2" y="34.1" width="8.4" height="8.37" fill="#a0e4d8"/><rect x="597" y="34.1" width="8.4" height="8.37" fill="#98e0b8"/><rect x="604.8" y="34.1" width="7.8" height="8.37" fill="#98e0a0"/>
<rect x="542.4" y="41.87" width="8.4" height="8.37" fill="#b4dc48"/><rect x="550.2" y="41.87" width="8.4" height="8.37" fill="#a0e4d8"/><rect x="558" y="41.87" width="8.4" height="8.37" fill="#70c8e0"/><rect x="565.8" y="41.87" width="8.4" height="8.37" fill="#a0e4d8"/><rect x="573.6" y="41.87" width="8.4" height="8.37" fill="#462a9a"/><rect x="581.4" y="41.87" width="8.4" height="8.37" fill="#b4dc48"/><rect x="589.2" y="41.87" width="8.4" height="8.37" fill="#462a9a"/><rect x="597" y="41.87" width="8.4" height="8.37" fill="#462a9a"/><rect x="604.8" y="41.87" width="8.4" height="8.37" fill="#462a9a"/><rect x="612.6" y="41.87" width="8.4" height="8.37" fill="#58a4dc"/><rect x="620.4" y="41.87" width="8.4" height="8.37" fill="#88d8e0"/><rect x="628.2" y="41.87" width="7.8" height="8.37" fill="#462a9a"/>
<rect x="534.6" y="49.64" width="8.4" height="8.37" fill="#98e0b8"/><rect x="542.4" y="49.64" width="8.4" height="8.37" fill="#e03810"/><rect x="550.2" y="49.64" width="8.4" height="8.37" fill="#a8dc58"/><rect x="558" y="49.64" width="8.4" height="8.37" fill="#e0e010"/><rect x="565.8" y="49.64" width="8.4" height="8.37" fill="#cce028"/><rect x="573.6" y="49.64" width="8.4" height="8.37" fill="#a0e4d8"/><rect x="581.4" y="49.64" width="8.4" height="8.37" fill="#98e0b8"/><rect x="589.2" y="49.64" width="8.4" height="8.37" fill="#88d8e0"/><rect x="597" y="49.64" width="8.4" height="8.37" fill="#a0e4d8"/><rect x="604.8" y="49.64" width="8.4" height="8.37" fill="#4048b0"/><rect x="612.6" y="49.64" width="8.4" height="8.37" fill="#462a9a"/><rect x="620.4" y="49.64" width="8.4" height="8.37" fill="#462a9a"/><rect x="628.2" y="49.64" width="8.4" height="8.37" fill="#5090d0"/><rect x="636" y="49.64" width="7.8" height="8.37" fill="#4874c2"/>
<rect x="526.8" y="57.41" width="8.4" height="8.37" fill="#70c8e0"/><rect x="534.6" y="57.41" width="8.4" height="8.37" fill="#c42a10"/><rect x="542.4" y="57.41" width="8.4" height="8.37" fill="#a0dc70"/><rect x="550.2" y="57.41" width="8.4" height="8.37" fill="#98e0a0"/><rect x="558" y="57.41" width="8.4" height="8.37" fill="#88d8e0"/><rect x="565.8" y="57.41" width="8.4" height="8.37" fill="#70c8e0"/><rect x="573.6" y="57.41" width="8.4" height="8.37" fill="#5090d0"/><rect x="581.4" y="57.41" width="8.4" height="8.37" fill="#a0e4d8"/><rect x="589.2" y="57.41" width="8.4" height="8.37" fill="#70c8e0"/><rect x="597" y="57.41" width="8.4" height="8.37" fill="#a0e4d8"/><rect x="604.8" y="57.41" width="8.4" height="8.37" fill="#88d8e0"/><rect x="612.6" y="57.41" width="8.4" height="8.37" fill="#58a4dc"/><rect x="620.4" y="57.41" width="8.4" height="8.37" fill="#462a9a"/><rect x="628.2" y="57.41" width="8.4" height="8.37" fill="#462a9a"/><rect x="636" y="57.41" width="8.4" height="8.37" fill="#4048b0"/><rect x="643.8" y="57.41" width="7.8" height="8.37" fill="#60b8e0"/>
<rect x="519" y="65.18" width="8.4" height="8.37" fill="#462a9a"/><rect x="526.8" y="65.18" width="8.4" height="8.37" fill="#cce028"/><rect x="534.6" y="65.18" width="8.4" height="8.37" fill="#98e0a0"/><rect x="542.4" y="65.18" width="8.4" height="8.37" fill="#98e0b8"/><rect x="550.2" y="65.18" width="8.4" height="8.37" fill="#98e0a0"/><rect x="558" y="65.18" width="8.4" height="8.37" fill="#98e0b8"/><rect x="565.8" y="65.18" width="8.4" height="8.37" fill="#a0e4d8"/><rect x="573.6" y="65.18" width="8.4" height="8.37" fill="#a0e4d8"/><rect x="581.4" y="65.18" width="8.4" height="8.37" fill="#70c8e0"/><rect x="589.2" y="65.18" width="8.4" height="8.37" fill="#5090d0"/><rect x="597" y="65.18" width="8.4" height="8.37" fill="#4874c2"/><rect x="604.8" y="65.18" width="8.4" height="8.37" fill="#5090d0"/><rect x="612.6" y="65.18" width="8.4" height="8.37" fill="#70c8e0"/><rect x="620.4" y="65.18" width="8.4" height="8.37" fill="#a0e4d8"/><rect x="628.2" y="65.18" width="8.4" height="8.37" fill="#462a9a"/><rect x="636" y="65.18" width="8.4" height="8.37" fill="#462a9a"/><rect x="643.8" y="65.18" width="8.4" height="8.37" fill="#5090d0"/><rect x="651.6" y="65.18" width="7.8" height="8.37" fill="#462a9a"/>
<rect x="511.2" y="72.95" width="8.4" height="8.37" fill="#5090d0"/><rect x="519" y="72.95" width="8.4" height="8.37" fill="#f4e038"/><rect x="526.8" y="72.95" width="8.4" height="8.37" fill="#98e0a0"/><rect x="534.6" y="72.95" width="8.4" height="8.37" fill="#a0e4d8"/><rect x="542.4" y="72.95" width="8.4" height="8.37" fill="#cce028"/><rect x="550.2" y="72.95" width="8.4" height="8.37" fill="#a8dc58"/><rect x="558" y="72.95" width="8.4" height="8.37" fill="#98e0a0"/><rect x="565.8" y="72.95" width="8.4" height="8.37" fill="#98e0b8"/><rect x="573.6" y="72.95" width="8.4" height="8.37" fill="#a0e4d8"/><rect x="581.4" y="72.95" width="8.4" height="8.37" fill="#a0e4d8"/><rect x="589.2" y="72.95" width="8.4" height="8.37" fill="#a0e4d8"/><rect x="597" y="72.95" width="8.4" height="8.37" fill="#88d8e0"/><rect x="604.8" y="72.95" width="8.4" height="8.37" fill="#4874c2"/><rect x="612.6" y="72.95" width="8.4" height="8.37" fill="#5090d0"/><rect x="620.4" y="72.95" width="8.4" height="8.37" fill="#88d8e0"/><rect x="628.2" y="72.95" width="8.4" height="8.37" fill="#60b8e0"/><rect x="636" y="72.95" width="8.4" height="8.37" fill="#462a9a"/><rect x="643.8" y="72.95" width="8.4" height="8.37" fill="#462a9a"/><rect x="651.6" y="72.95" width="8.4" height="8.37" fill="#5090d0"/><rect x="659.4" y="72.95" width="7.8" height="8.37" fill="#462a9a"/>
<rect x="511.2" y="80.72" width="8.4" height="8.37" fill="#f4e038"/><rect x="519" y="80.72" width="8.4" height="8.37" fill="#a8dc58"/><rect x="526.8" y="80.72" width="8.4" height="8.37" fill="#a0e4d8"/><rect x="534.6" y="80.72" width="8.4" height="8.37" fill="#f4e038"/><rect x="542.4" y="80.72" width="8.4" height="8.37" fill="#cce028"/><rect x="550.2" y="80.72" width="8.4" height="8.37" fill="#98e0a0"/><rect x="558" y="80.72" width="8.4" height="8.37" fill="#98e0b8"/><rect x="565.8" y="80.72" width="8.4" height="8.37" fill="#a0e4d8"/><rect x="573.6" y="80.72" width="8.4" height="8.37" fill="#a0e4d8"/><rect x="581.4" y="80.72" width="8.4" height="8.37" fill="#88d8e0"/><rect x="589.2" y="80.72" width="8.4" height="8.37" fill="#a0e4d8"/><rect x="597" y="80.72" width="8.4" height="8.37" fill="#98e0b8"/><rect x="604.8" y="80.72" width="8.4" height="8.37" fill="#98e0b8"/><rect x="612.6" y="80.72" width="8.4" height="8.37" fill="#4874c2"/><rect x="620.4" y="80.72" width="8.4" height="8.37" fill="#4874c2"/><rect x="628.2" y="80.72" width="8.4" height="8.37" fill="#58a4dc"/><rect x="636" y="80.72" width="8.4" height="8.37" fill="#462a9a"/><rect x="643.8" y="80.72" width="8.4" height="8.37" fill="#462a9a"/><rect x="651.6" y="80.72" width="8.4" height="8.37" fill="#4874c2"/><rect x="659.4" y="80.72" width="7.8" height="8.37" fill="#4874c2"/>
<rect x="503.4" y="88.49" width="8.4" height="8.37" fill="#cce028"/><rect x="511.2" y="88.49" width="8.4" height="8.37" fill="#f4e038"/><rect x="519" y="88.49" width="8.4" height="8.37" fill="#98e0a0"/><rect x="526.8" y="88.49" width="8.4" height="8.37" fill="#b4dc48"/><rect x="534.6" y="88.49" width="8.4" height="8.37" fill="#cce028"/><rect x="542.4" y="88.49" width="8.4" height="8.37" fill="#a0dc70"/><rect x="550.2" y="88.49" width="8.4" height="8.37" fill="#98e0a0"/><rect x="558" y="88.49" width="8.4" height="8.37" fill="#a0e4d8"/><rect x="565.8" y="88.49" width="8.4" height="8.37" fill="#88d8e0"/><rect x="573.6" y="88.49" width="8.4" height="8.37" fill="#70c8e0"/><rect x="581.4" y="88.49" width="8.4" height="8.37" fill="#60b8e0"/><rect x="589.2" y="88.49" width="8.4" height="8.37" fill="#58a4dc"/><rect x="597" y="88.49" width="8.4" height="8.37" fill="#88d8e0"/><rect x="604.8" y="88.49" width="8.4" height="8.37" fill="#a0e4d8"/><rect x="612.6" y="88.49" width="8.4" height="8.37" fill="#70c8e0"/><rect x="620.4" y="88.49" width="8.4" height="8.37" fill="#462a9a"/><rect x="628.2" y="88.49" width="8.4" height="8.37" fill="#4874c2"/><rect x="636" y="88.49" width="8.4" height="8.37" fill="#4874c2"/><rect x="643.8" y="88.49" width="8.4" height="8.37" fill="#462a9a"/><rect x="651.6" y="88.49" width="8.4" height="8.37" fill="#4048b0"/><rect x="659.4" y="88.49" width="8.4" height="8.37" fill="#60b8e0"/><rect x="667.2" y="88.49" width="7.8" height="8.37" fill="#462a9a"/>
<rect x="503.4" y="96.26" width="8.4" height="8.37" fill="#f8c814"/><rect x="511.2" y="96.26" width="8.4" height="8.37" fill="#e0e010"/><rect x="519" y="96.26" width="8.4" height="8.37" fill="#a8dc58"/><rect x="526.8" y="96.26" width="8.4" height="8.37" fill="#cce028"/><rect x="534.6" y="96.26" width="8.4" height="8.37" fill="#a8dc58"/><rect x="542.4" y="96.26" width="8.4" height="8.37" fill="#98e0a0"/><rect x="550.2" y="96.26" width="8.4" height="8.37" fill="#98e0b8"/><rect x="558" y="96.26" width="8.4" height="8.37" fill="#a8dc58"/><rect x="565.8" y="96.26" width="8.4" height="8.37" fill="#e0e010"/><rect x="573.6" y="96.26" width="8.4" height="8.37" fill="#b4dc48"/><rect x="581.4" y="96.26" width="8.4" height="8.37" fill="#a0e4d8"/><rect x="589.2" y="96.26" width="8.4" height="8.37" fill="#5090d0"/><rect x="597" y="96.26" width="8.4" height="8.37" fill="#70c8e0"/><rect x="604.8" y="96.26" width="8.4" height="8.37" fill="#a0e4d8"/><rect x="612.6" y="96.26" width="8.4" height="8.37" fill="#88d8e0"/><rect x="620.4" y="96.26" width="8.4" height="8.37" fill="#462a9a"/><rect x="628.2" y="96.26" width="8.4" height="8.37" fill="#4874c2"/><rect x="636" y="96.26" width="8.4" height="8.37" fill="#5090d0"/><rect x="643.8" y="96.26" width="8.4" height="8.37" fill="#462a9a"/><rect x="651.6" y="96.26" width="8.4" height="8.37" fill="#462a9a"/><rect x="659.4" y="96.26" width="8.4" height="8.37" fill="#5090d0"/><rect x="667.2" y="96.26" width="7.8" height="8.37" fill="#70c8e0"/>
<rect x="503.4" y="104.03" width="8.4" height="8.37" fill="#cce028"/><rect x="511.2" y="104.03" width="8.4" height="8.37" fill="#f4e038"/><rect x="519" y="104.03" width="8.4" height="8.37" fill="#cce028"/><rect x="526.8" y="104.03" width="8.4" height="8.37" fill="#a0dc70"/><rect x="534.6" y="104.03" width="8.4" height="8.37" fill="#98e0a0"/><rect x="542.4" y="104.03" width="8.4" height="8.37" fill="#98e0a0"/><rect x="550.2" y="104.03" width="8.4" height="8.37" fill="#a8dc58"/><rect x="558" y="104.03" width="8.4" height="8.37" fill="#e0e010"/><rect x="565.8" y="104.03" width="8.4" height="8.37" fill="#e0e010"/><rect x="573.6" y="104.03" width="8.4" height="8.37" fill="#e0e010"/><rect x="581.4" y="104.03" width="8.4" height="8.37" fill="#e0e010"/><rect x="589.2" y="104.03" width="8.4" height="8.37" fill="#a0e4d8"/><rect x="597" y="104.03" width="8.4" height="8.37" fill="#5090d0"/><rect x="604.8" y="104.03" width="8.4" height="8.37" fill="#70c8e0"/><rect x="612.6" y="104.03" width="8.4" height="8.37" fill="#88d8e0"/><rect x="620.4" y="104.03" width="8.4" height="8.37" fill="#462a9a"/><rect x="628.2" y="104.03" width="8.4" height="8.37" fill="#4048b0"/><rect x="636" y="104.03" width="8.4" height="8.37" fill="#58a4dc"/><rect x="643.8" y="104.03" width="8.4" height="8.37" fill="#462a9a"/><rect x="651.6" y="104.03" width="8.4" height="8.37" fill="#462a9a"/><rect x="659.4" y="104.03" width="8.4" height="8.37" fill="#4874c2"/><rect x="667.2" y="104.03" width="7.8" height="8.37" fill="#462a9a"/>
<rect x="503.4" y="111.8" width="8.4" height="8.37" fill="#f4e038"/><rect x="511.2" y="111.8" width="8.4" height="8.37" fill="#f4e038"/><rect x="519" y="111.8" width="8.4" height="8.37" fill="#b4dc48"/><rect x="526.8" y="111.8" width="8.4" height="8.37" fill="#98e0a0"/><rect x="534.6" y="111.8" width="8.4" height="8.37" fill="#98e0a0"/><rect x="542.4" y="111.8" width="8.4" height="8.37" fill="#98e0a0"/><rect x="550.2" y="111.8" width="8.4" height="8.37" fill="#a8dc58"/><rect x="558" y="111.8" width="8.4" height="8.37" fill="#cce028"/><rect x="565.8" y="111.8" width="8.4" height="8.37" fill="#e0e010"/><rect x="573.6" y="111.8" width="8.4" height="8.37" fill="#e0e010"/><rect x="581.4" y="111.8" width="8.4" height="8.37" fill="#e0e010"/><rect x="589.2" y="111.8" width="8.4" height="8.37" fill="#98e0a0"/><rect x="597" y="111.8" width="8.4" height="8.37" fill="#5090d0"/><rect x="604.8" y="111.8" width="8.4" height="8.37" fill="#5090d0"/><rect x="612.6" y="111.8" width="8.4" height="8.37" fill="#70c8e0"/><rect x="620.4" y="111.8" width="8.4" height="8.37" fill="#4048b0"/><rect x="628.2" y="111.8" width="8.4" height="8.37" fill="#462a9a"/><rect x="636" y="111.8" width="8.4" height="8.37" fill="#5090d0"/><rect x="643.8" y="111.8" width="8.4" height="8.37" fill="#462a9a"/><rect x="651.6" y="111.8" width="8.4" height="8.37" fill="#462a9a"/><rect x="659.4" y="111.8" width="8.4" height="8.37" fill="#4874c2"/><rect x="667.2" y="111.8" width="7.8" height="8.37" fill="#70c8e0"/>
<rect x="503.4" y="119.57" width="8.4" height="8.37" fill="#e0e010"/><rect x="511.2" y="119.57" width="8.4" height="8.37" fill="#f4e038"/><rect x="519" y="119.57" width="8.4" height="8.37" fill="#cce028"/><rect x="526.8" y="119.57" width="8.4" height="8.37" fill="#a8dc58"/><rect x="534.6" y="119.57" width="8.4" height="8.37" fill="#98e0a0"/><rect x="542.4" y="119.57" width="8.4" height="8.37" fill="#98e0a0"/><rect x="550.2" y="119.57" width="8.4" height="8.37" fill="#a8dc58"/><rect x="558" y="119.57" width="8.4" height="8.37" fill="#e0e010"/><rect x="565.8" y="119.57" width="8.4" height="8.37" fill="#e0e010"/><rect x="573.6" y="119.57" width="8.4" height="8.37" fill="#e0e010"/><rect x="581.4" y="119.57" width="8.4" height="8.37" fill="#e0e010"/><rect x="589.2" y="119.57" width="8.4" height="8.37" fill="#a0e4d8"/><rect x="597" y="119.57" width="8.4" height="8.37" fill="#5090d0"/><rect x="604.8" y="119.57" width="8.4" height="8.37" fill="#70c8e0"/><rect x="612.6" y="119.57" width="8.4" height="8.37" fill="#88d8e0"/><rect x="620.4" y="119.57" width="8.4" height="8.37" fill="#462a9a"/><rect x="628.2" y="119.57" width="8.4" height="8.37" fill="#462a9a"/><rect x="636" y="119.57" width="8.4" height="8.37" fill="#58a4dc"/><rect x="643.8" y="119.57" width="8.4" height="8.37" fill="#462a9a"/><rect x="651.6" y="119.57" width="8.4" height="8.37" fill="#462a9a"/><rect x="659.4" y="119.57" width="8.4" height="8.37" fill="#4874c2"/><rect x="667.2" y="119.57" width="7.8" height="8.37" fill="#462a9a"/>
<rect x="503.4" y="127.34" width="8.4" height="8.37" fill="#f8c814"/><rect x="511.2" y="127.34" width="8.4" height="8.37" fill="#e0e010"/><rect x="519" y="127.34" width="8.4" height="8.37" fill="#a8dc58"/><rect x="526.8" y="127.34" width="8.4" height="8.37" fill="#cce028"/><rect x="534.6" y="127.34" width="8.4" height="8.37" fill="#a8dc58"/><rect x="542.4" y="127.34" width="8.4" height="8.37" fill="#98e0a0"/><rect x="550.2" y="127.34" width="8.4" height="8.37" fill="#98e0b8"/><rect x="558" y="127.34" width="8.4" height="8.37" fill="#a8dc58"/><rect x="565.8" y="127.34" width="8.4" height="8.37" fill="#e0e010"/><rect x="573.6" y="127.34" width="8.4" height="8.37" fill="#b4dc48"/><rect x="581.4" y="127.34" width="8.4" height="8.37" fill="#a0e4d8"/><rect x="589.2" y="127.34" width="8.4" height="8.37" fill="#5090d0"/><rect x="597" y="127.34" width="8.4" height="8.37" fill="#70c8e0"/><rect x="604.8" y="127.34" width="8.4" height="8.37" fill="#a0e4d8"/><rect x="612.6" y="127.34" width="8.4" height="8.37" fill="#88d8e0"/><rect x="620.4" y="127.34" width="8.4" height="8.37" fill="#462a9a"/><rect x="628.2" y="127.34" width="8.4" height="8.37" fill="#4874c2"/><rect x="636" y="127.34" width="8.4" height="8.37" fill="#5090d0"/><rect x="643.8" y="127.34" width="8.4" height="8.37" fill="#462a9a"/><rect x="651.6" y="127.34" width="8.4" height="8.37" fill="#462a9a"/><rect x="659.4" y="127.34" width="8.4" height="8.37" fill="#5090d0"/><rect x="667.2" y="127.34" width="7.8" height="8.37" fill="#70c8e0"/>
<rect x="503.4" y="135.11" width="8.4" height="7.77" fill="#cce028"/><rect x="511.2" y="135.11" width="8.4" height="8.37" fill="#f4e038"/><rect x="519" y="135.11" width="8.4" height="8.37" fill="#98e0a0"/><rect x="526.8" y="135.11" width="8.4" height="8.37" fill="#b4dc48"/><rect x="534.6" y="135.11" width="8.4" height="8.37" fill="#cce028"/><rect x="542.4" y="135.11" width="8.4" height="8.37" fill="#a0dc70"/><rect x="550.2" y="135.11" width="8.4" height="8.37" fill="#98e0a0"/><rect x="558" y="135.11" width="8.4" height="8.37" fill="#a0e4d8"/><rect x="565.8" y="135.11" width="8.4" height="8.37" fill="#88d8e0"/><rect x="573.6" y="135.11" width="8.4" height="8.37" fill="#70c8e0"/><rect x="581.4" y="135.11" width="8.4" height="8.37" fill="#60b8e0"/><rect x="589.2" y="135.11" width="8.4" height="8.37" fill="#58a4dc"/><rect x="597" y="135.11" width="8.4" height="8.37" fill="#88d8e0"/><rect x="604.8" y="135.11" width="8.4" height="8.37" fill="#a0e4d8"/><rect x="612.6" y="135.11" width="8.4" height="8.37" fill="#70c8e0"/><rect x="620.4" y="135.11" width="8.4" height="8.37" fill="#462a9a"/><rect x="628.2" y="135.11" width="8.4" height="8.37" fill="#4874c2"/><rect x="636" y="135.11" width="8.4" height="8.37" fill="#4874c2"/><rect x="643.8" y="135.11" width="8.4" height="8.37" fill="#462a9a"/><rect x="651.6" y="135.11" width="8.4" height="8.37" fill="#4048b0"/><rect x="659.4" y="135.11" width="8.4" height="8.37" fill="#60b8e0"/><rect x="667.2" y="135.11" width="7.8" height="7.77" fill="#462a9a"/>
<rect x="511.2" y="142.88" width="8.4" height="8.37" fill="#f4e038"/><rect x="519" y="142.88" width="8.4" height="8.37" fill="#a8dc58"/><rect x="526.8" y="142.88" width="8.4" height="8.37" fill="#a0e4d8"/><rect x="534.6" y="142.88" width="8.4" height="8.37" fill="#f4e038"/><rect x="542.4" y="142.88" width="8.4" height="8.37" fill="#cce028"/><rect x="550.2" y="142.88" width="8.4" height="8.37" fill="#98e0a0"/><rect x="558" y="142.88" width="8.4" height="8.37" fill="#98e0b8"/><rect x="565.8" y="142.88" width="8.4" height="8.37" fill="#a0e4d8"/><rect x="573.6" y="142.88" width="8.4" height="8.37" fill="#a0e4d8"/><rect x="581.4" y="142.88" width="8.4" height="8.37" fill="#88d8e0"/><rect x="589.2" y="142.88" width="8.4" height="8.37" fill="#a0e4d8"/><rect x="597" y="142.88" width="8.4" height="8.37" fill="#98e0b8"/><rect x="604.8" y="142.88" width="8.4" height="8.37" fill="#98e0b8"/><rect x="612.6" y="142.88" width="8.4" height="8.37" fill="#4874c2"/><rect x="620.4" y="142.88" width="8.4" height="8.37" fill="#4874c2"/><rect x="628.2" y="142.88" width="8.4" height="8.37" fill="#58a4dc"/><rect x="636" y="142.88" width="8.4" height="8.37" fill="#462a9a"/><rect x="643.8" y="142.88" width="8.4" height="8.37" fill="#462a9a"/><rect x="651.6" y="142.88" width="8.4" height="8.37" fill="#4874c2"/><rect x="659.4" y="142.88" width="7.8" height="8.37" fill="#4874c2"/>
<rect x="511.2" y="150.65" width="8.4" height="7.77" fill="#5090d0"/><rect x="519" y="150.65" width="8.4" height="8.37" fill="#f4e038"/><rect x="526.8" y="150.65" width="8.4" height="8.37" fill="#98e0a0"/><rect x="534.6" y="150.65" width="8.4" height="8.37" fill="#a0e4d8"/><rect x="542.4" y="150.65" width="8.4" height="8.37" fill="#cce028"/><rect x="550.2" y="150.65" width="8.4" height="8.37" fill="#a8dc58"/><rect x="558" y="150.65" width="8.4" height="8.37" fill="#98e0a0"/><rect x="565.8" y="150.65" width="8.4" height="8.37" fill="#98e0b8"/><rect x="573.6" y="150.65" width="8.4" height="8.37" fill="#a0e4d8"/><rect x="581.4" y="150.65" width="8.4" height="8.37" fill="#a0e4d8"/><rect x="589.2" y="150.65" width="8.4" height="8.37" fill="#a0e4d8"/><rect x="597" y="150.65" width="8.4" height="8.37" fill="#88d8e0"/><rect x="604.8" y="150.65" width="8.4" height="8.37" fill="#4874c2"/><rect x="612.6" y="150.65" width="8.4" height="8.37" fill="#5090d0"/><rect x="620.4" y="150.65" width="8.4" height="8.37" fill="#88d8e0"/><rect x="628.2" y="150.65" width="8.4" height="8.37" fill="#60b8e0"/><rect x="636" y="150.65" width="8.4" height="8.37" fill="#462a9a"/><rect x="643.8" y="150.65" width="8.4" height="8.37" fill="#462a9a"/><rect x="651.6" y="150.65" width="8.4" height="8.37" fill="#5090d0"/><rect x="659.4" y="150.65" width="7.8" height="7.77" fill="#462a9a"/>
<rect x="519" y="158.42" width="8.4" height="7.77" fill="#462a9a"/><rect x="526.8" y="158.42" width="8.4" height="8.37" fill="#cce028"/><rect x="534.6" y="158.42" width="8.4" height="8.37" fill="#98e0a0"/><rect x="542.4" y="158.42" width="8.4" height="8.37" fill="#98e0b8"/><rect x="550.2" y="158.42" width="8.4" height="8.37" fill="#98e0a0"/><rect x="558" y="158.42" width="8.4" height="8.37" fill="#98e0b8"/><rect x="565.8" y="158.42" width="8.4" height="8.37" fill="#a0e4d8"/><rect x="573.6" y="158.42" width="8.4" height="8.37" fill="#a0e4d8"/><rect x="581.4" y="158.42" width="8.4" height="8.37" fill="#70c8e0"/><rect x="589.2" y="158.42" width="8.4" height="8.37" fill="#5090d0"/><rect x="597" y="158.42" width="8.4" height="8.37" fill="#4874c2"/><rect x="604.8" y="158.42" width="8.4" height="8.37" fill="#5090d0"/><rect x="612.6" y="158.42" width="8.4" height="8.37" fill="#70c8e0"/><rect x="620.4" y="158.42" width="8.4" height="8.37" fill="#a0e4d8"/><rect x="628.2" y="158.42" width="8.4" height="8.37" fill="#462a9a"/><rect x="636" y="158.42" width="8.4" height="8.37" fill="#462a9a"/><rect x="643.8" y="158.42" width="8.4" height="8.37" fill="#5090d0"/><rect x="651.6" y="158.42" width="7.8" height="7.77" fill="#462a9a"/>
<rect x="526.8" y="166.19" width="8.4" height="7.77" fill="#70c8e0"/><rect x="534.6" y="166.19" width="8.4" height="8.37" fill="#c42a10"/><rect x="542.4" y="166.19" width="8.4" height="8.37" fill="#a0dc70"/><rect x="550.2" y="166.19" width="8.4" height="8.37" fill="#98e0a0"/><rect x="558" y="166.19" width="8.4" height="8.37" fill="#88d8e0"/><rect x="565.8" y="166.19" width="8.4" height="8.37" fill="#70c8e0"/><rect x="573.6" y="166.19" width="8.4" height="8.37" fill="#5090d0"/><rect x="581.4" y="166.19" width="8.4" height="8.37" fill="#a0e4d8"/><rect x="589.2" y="166.19" width="8.4" height="8.37" fill="#70c8e0"/><rect x="597" y="166.19" width="8.4" height="8.37" fill="#a0e4d8"/><rect x="604.8" y="166.19" width="8.4" height="8.37" fill="#88d8e0"/><rect x="612.6" y="166.19" width="8.4" height="8.37" fill="#58a4dc"/><rect x="620.4" y="166.19" width="8.4" height="8.37" fill="#462a9a"/><rect x="628.2" y="166.19" width="8.4" height="8.37" fill="#462a9a"/><rect x="636" y="166.19" width="8.4" height="8.37" fill="#4048b0"/><rect x="643.8" y="166.19" width="7.8" height="7.77" fill="#60b8e0"/>
<rect x="534.6" y="173.96" width="8.4" height="7.77" fill="#98e0b8"/><rect x="542.4" y="173.96" width="8.4" height="8.37" fill="#e03810"/><rect x="550.2" y="173.96" width="8.4" height="8.37" fill="#a8dc58"/><rect x="558" y="173.96" width="8.4" height="8.37" fill="#e0e010"/><rect x="565.8" y="173.96" width="8.4" height="8.37" fill="#cce028"/><rect x="573.6" y="173.96" width="8.4" height="8.37" fill="#a0e4d8"/><rect x="581.4" y="173.96" width="8.4" height="8.37" fill="#98e0b8"/><rect x="589.2" y="173.96" width="8.4" height="8.37" fill="#88d8e0"/><rect x="597" y="173.96" width="8.4" height="8.37" fill="#a0e4d8"/><rect x="604.8" y="173.96" width="8.4" height="8.37" fill="#4048b0"/><rect x="612.6" y="173.96" width="8.4" height="8.37" fill="#462a9a"/><rect x="620.4" y="173.96" width="8.4" height="8.37" fill="#462a9a"/><rect x="628.2" y="173.96" width="8.4" height="8.37" fill="#5090d0"/><rect x="636" y="173.96" width="7.8" height="7.77" fill="#4874c2"/>
<rect x="542.4" y="181.73" width="8.4" height="7.77" fill="#b4dc48"/><rect x="550.2" y="181.73" width="8.4" height="7.77" fill="#a0e4d8"/><rect x="558" y="181.73" width="8.4" height="7.77" fill="#70c8e0"/><rect x="565.8" y="181.73" width="8.4" height="8.37" fill="#a0e4d8"/><rect x="573.6" y="181.73" width="8.4" height="8.37" fill="#462a9a"/><rect x="581.4" y="181.73" width="8.4" height="8.37" fill="#b4dc48"/><rect x="589.2" y="181.73" width="8.4" height="8.37" fill="#462a9a"/><rect x="597" y="181.73" width="8.4" height="8.37" fill="#462a9a"/><rect x="604.8" y="181.73" width="8.4" height="8.37" fill="#462a9a"/><rect x="612.6" y="181.73" width="8.4" height="7.77" fill="#58a4dc"/><rect x="620.4" y="181.73" width="8.4" height="7.77" fill="#88d8e0"/><rect x="628.2" y="181.73" width="7.8" height="7.77" fill="#462a9a"/>
<rect x="565.8" y="189.5" width="8.4" height="7.77" fill="#98e0b8"/><rect x="573.6" y="189.5" width="8.4" height="7.77" fill="#a0e4d8"/><rect x="581.4" y="189.5" width="8.4" height="7.77" fill="#a0e4d8"/><rect x="589.2" y="189.5" width="8.4" height="7.77" fill="#a0e4d8"/><rect x="597" y="189.5" width="8.4" height="7.77" fill="#98e0b8"/><rect x="604.8" y="189.5" width="7.8" height="7.77" fill="#98e0a0"/>
</g>
<rect x="495.2" y="8.65" width="23.73" height="10" fill="url(#g1)"/>
<rect x="518.62" y="8.65" width="47.15" height="10" fill="url(#g2)"/>
<rect x="565.48" y="8.65" width="47.15" height="10" fill="url(#g3)"/>
<rect x="612.33" y="8.65" width="47.15" height="10" fill="url(#g4)"/>
<rect x="659.17" y="8.65" width="23.43" height="10" fill="url(#g5)"/>
<line x1="526.43" y1="8.65" x2="526.43" y2="10.85" stroke="#777777" stroke-width="0.6"/><line x1="526.43" y1="18.65" x2="526.43" y2="16.45" stroke="#777777" stroke-width="0.6"/>
<line x1="557.67" y1="8.65" x2="557.67" y2="10.85" stroke="#777777" stroke-width="0.6"/><line x1="557.67" y1="18.65" x2="557.67" y2="16.45" stroke="#777777" stroke-width="0.6"/>
<line x1="588.9" y1="8.65" x2="588.9" y2="10.85" stroke="#777777" stroke-width="0.6"/><line x1="588.9" y1="18.65" x2="588.9" y2="16.45" stroke="#777777" stroke-width="0.6"/>
<line x1="620.13" y1="8.65" x2="620.13" y2="10.85" stroke="#777777" stroke-width="0.6"/><line x1="620.13" y1="18.65" x2="620.13" y2="16.45" stroke="#777777" stroke-width="0.6"/>
<line x1="651.37" y1="8.65" x2="651.37" y2="10.85" stroke="#777777" stroke-width="0.6"/><line x1="651.37" y1="18.65" x2="651.37" y2="16.45" stroke="#777777" stroke-width="0.6"/>
<rect x="495.2" y="8.65" width="187.4" height="10" fill="none" stroke="#3c3c3c" stroke-width="0.8"/>
<text class="t" x="495.2" y="6.7" text-anchor="middle">−360</text>
<text class="t" x="526.43" y="6.7" text-anchor="middle">−300</text>
<text class="t" x="557.67" y="6.7" text-anchor="middle">−240</text>
<text class="t" x="588.9" y="6.7" text-anchor="middle">−180</text>
<text class="t" x="620.13" y="6.7" text-anchor="middle">−120</text>
<text class="t" x="651.37" y="6.7" text-anchor="middle">−60</text>
<text class="t" x="682.6" y="6.7" text-anchor="middle">0</text>
<path d="M495.5 26.5H682.5V204.5H495.5Z" fill="none" stroke="#3c3c3c" stroke-width="1"/>
<line x1="500.78" y1="26.5" x2="500.78" y2="29.3" stroke="#777777" stroke-width="0.6"/><line x1="500.78" y1="204.5" x2="500.78" y2="201.7" stroke="#777777" stroke-width="0.6"/><line x1="495.5" y1="203" x2="498.3" y2="203" stroke="#777777" stroke-width="0.6"/><line x1="682.2" y1="203" x2="679.4" y2="203" stroke="#777777" stroke-width="0.6"/>
<text class="t" x="500.78" y="213.1" text-anchor="middle">−100</text>
<text class="t" x="492.9" y="206.45" text-anchor="end">−100</text>
<line x1="518.4" y1="26.5" x2="518.4" y2="29.3" stroke="#777777" stroke-width="0.6"/><line x1="518.4" y1="204.5" x2="518.4" y2="201.7" stroke="#777777" stroke-width="0.6"/><line x1="495.5" y1="185.46" x2="498.3" y2="185.46" stroke="#777777" stroke-width="0.6"/><line x1="682.2" y1="185.46" x2="679.4" y2="185.46" stroke="#777777" stroke-width="0.6"/>
<text class="t" x="518.4" y="213.1" text-anchor="middle">−80</text>
<text class="t" x="492.9" y="188.91" text-anchor="end">−80</text>
<line x1="536.01" y1="26.5" x2="536.01" y2="29.3" stroke="#777777" stroke-width="0.6"/><line x1="536.01" y1="204.5" x2="536.01" y2="201.7" stroke="#777777" stroke-width="0.6"/><line x1="495.5" y1="167.92" x2="498.3" y2="167.92" stroke="#777777" stroke-width="0.6"/><line x1="682.2" y1="167.92" x2="679.4" y2="167.92" stroke="#777777" stroke-width="0.6"/>
<text class="t" x="536.01" y="213.1" text-anchor="middle">−60</text>
<text class="t" x="492.9" y="171.37" text-anchor="end">−60</text>
<line x1="553.62" y1="26.5" x2="553.62" y2="29.3" stroke="#777777" stroke-width="0.6"/><line x1="553.62" y1="204.5" x2="553.62" y2="201.7" stroke="#777777" stroke-width="0.6"/><line x1="495.5" y1="150.38" x2="498.3" y2="150.38" stroke="#777777" stroke-width="0.6"/><line x1="682.2" y1="150.38" x2="679.4" y2="150.38" stroke="#777777" stroke-width="0.6"/>
<text class="t" x="553.62" y="213.1" text-anchor="middle">−40</text>
<text class="t" x="492.9" y="153.83" text-anchor="end">−40</text>
<line x1="571.24" y1="26.5" x2="571.24" y2="29.3" stroke="#777777" stroke-width="0.6"/><line x1="571.24" y1="204.5" x2="571.24" y2="201.7" stroke="#777777" stroke-width="0.6"/><line x1="495.5" y1="132.84" x2="498.3" y2="132.84" stroke="#777777" stroke-width="0.6"/><line x1="682.2" y1="132.84" x2="679.4" y2="132.84" stroke="#777777" stroke-width="0.6"/>
<text class="t" x="571.24" y="213.1" text-anchor="middle">−20</text>
<text class="t" x="492.9" y="136.29" text-anchor="end">−20</text>
<line x1="588.85" y1="26.5" x2="588.85" y2="29.3" stroke="#777777" stroke-width="0.6"/><line x1="588.85" y1="204.5" x2="588.85" y2="201.7" stroke="#777777" stroke-width="0.6"/><line x1="495.5" y1="115.3" x2="498.3" y2="115.3" stroke="#777777" stroke-width="0.6"/><line x1="682.2" y1="115.3" x2="679.4" y2="115.3" stroke="#777777" stroke-width="0.6"/>
<text class="t" x="588.85" y="213.1" text-anchor="middle">0</text>
<text class="t" x="492.9" y="118.75" text-anchor="end">0</text>
<line x1="606.46" y1="26.5" x2="606.46" y2="29.3" stroke="#777777" stroke-width="0.6"/><line x1="606.46" y1="204.5" x2="606.46" y2="201.7" stroke="#777777" stroke-width="0.6"/><line x1="495.5" y1="97.76" x2="498.3" y2="97.76" stroke="#777777" stroke-width="0.6"/><line x1="682.2" y1="97.76" x2="679.4" y2="97.76" stroke="#777777" stroke-width="0.6"/>
<text class="t" x="606.46" y="213.1" text-anchor="middle">20</text>
<text class="t" x="492.9" y="101.21" text-anchor="end">20</text>
<line x1="624.08" y1="26.5" x2="624.08" y2="29.3" stroke="#777777" stroke-width="0.6"/><line x1="624.08" y1="204.5" x2="624.08" y2="201.7" stroke="#777777" stroke-width="0.6"/><line x1="495.5" y1="80.22" x2="498.3" y2="80.22" stroke="#777777" stroke-width="0.6"/><line x1="682.2" y1="80.22" x2="679.4" y2="80.22" stroke="#777777" stroke-width="0.6"/>
<text class="t" x="624.08" y="213.1" text-anchor="middle">40</text>
<text class="t" x="492.9" y="83.67" text-anchor="end">40</text>
<line x1="641.69" y1="26.5" x2="641.69" y2="29.3" stroke="#777777" stroke-width="0.6"/><line x1="641.69" y1="204.5" x2="641.69" y2="201.7" stroke="#777777" stroke-width="0.6"/><line x1="495.5" y1="62.68" x2="498.3" y2="62.68" stroke="#777777" stroke-width="0.6"/><line x1="682.2" y1="62.68" x2="679.4" y2="62.68" stroke="#777777" stroke-width="0.6"/>
<text class="t" x="641.69" y="213.1" text-anchor="middle">60</text>
<text class="t" x="492.9" y="66.13" text-anchor="end">60</text>
<line x1="659.3" y1="26.5" x2="659.3" y2="29.3" stroke="#777777" stroke-width="0.6"/><line x1="659.3" y1="204.5" x2="659.3" y2="201.7" stroke="#777777" stroke-width="0.6"/><line x1="495.5" y1="45.14" x2="498.3" y2="45.14" stroke="#777777" stroke-width="0.6"/><line x1="682.2" y1="45.14" x2="679.4" y2="45.14" stroke="#777777" stroke-width="0.6"/>
<text class="t" x="659.3" y="213.1" text-anchor="middle">80</text>
<text class="t" x="492.9" y="48.59" text-anchor="end">80</text>
<line x1="676.92" y1="26.5" x2="676.92" y2="29.3" stroke="#777777" stroke-width="0.6"/><line x1="676.92" y1="204.5" x2="676.92" y2="201.7" stroke="#777777" stroke-width="0.6"/><line x1="495.5" y1="27.6" x2="498.3" y2="27.6" stroke="#777777" stroke-width="0.6"/><line x1="682.2" y1="27.6" x2="679.4" y2="27.6" stroke="#777777" stroke-width="0.6"/>
<text class="t" x="676.92" y="213.1" text-anchor="middle">100</text>
<text class="t" x="492.9" y="31.05" text-anchor="end">100</text>
<text class="l" x="589.35" y="224.6" text-anchor="middle"><tspan font-style="italic">x</tspan> (mm)</text>
<text class="l" transform="translate(468.3,114.5) rotate(-90)" text-anchor="middle"><tspan font-style="italic">y</tspan> (mm)</text>
<text class="p" x="590.6" y="240.9" text-anchor="middle">(c)</text>
</svg>
</body></html>
